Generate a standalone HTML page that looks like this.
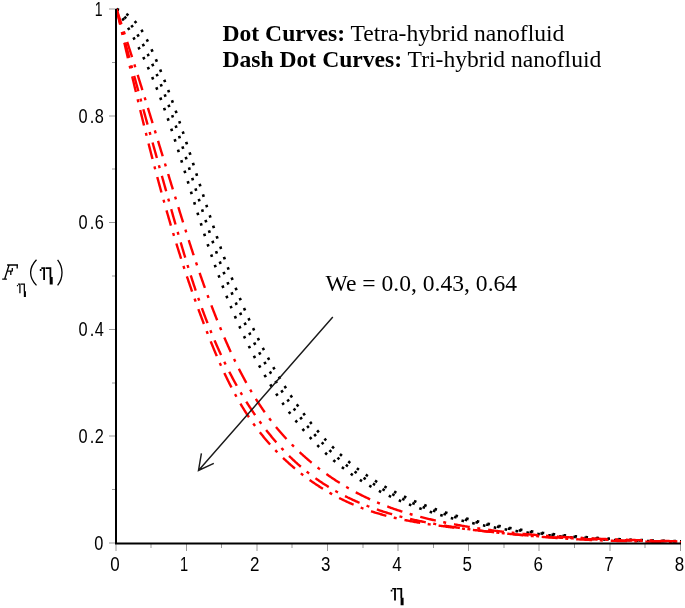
<!DOCTYPE html><html><head><meta charset="utf-8"><style>html,body{margin:0;padding:0;background:#fff;overflow:hidden}svg{display:block;will-change:transform}</style></head><body>
<svg width="685" height="608" viewBox="0 0 685 608">
<rect width="685" height="608" fill="#fff"/>
<path d="M109,543.0H116 M112,489.5H116 M109,436.0H116 M112,383.0H116 M109,329.5H116 M112,276.0H116 M109,222.5H116 M112,169.0H116 M109,116.0H116 M112,62.5H116 M109,9.0H116 M116.0,544V551 M151.0,544V548 M186.5,544V551 M221.5,544V548 M257.0,544V551 M292.0,544V548 M327.5,544V551 M363.0,544V548 M398.0,544V551 M433.5,544V548 M468.5,544V551 M504.0,544V548 M539.0,544V551 M574.5,544V548 M610.0,544V551 M645.0,544V548 M680.5,544V551" stroke="#999" stroke-width="1" fill="none"/>
<path d="M116.50,9.00 117.05,9.83 117.60,10.67 118.15,11.51 118.69,12.35 119.23,13.19 119.77,14.03 120.30,14.88 120.84,15.72 121.37,16.57 121.90,17.42 122.42,18.27 122.95,19.12 123.47,19.97 123.99,20.83 124.50,21.69 125.02,22.54 125.53,23.40 126.04,24.26 126.54,25.13 127.05,25.99 127.55,26.86 128.05,27.72 128.55,28.59 129.04,29.46 129.53,30.33 130.02,31.20 130.51,32.07 131.00,32.95 131.48,33.82 131.96,34.70 132.44,35.58 132.92,36.46 133.39,37.34 133.86,38.22 134.33,39.10 134.80,39.99 135.26,40.87 135.73,41.76 136.19,42.64 136.65,43.53 137.10,44.42 137.56,45.31 138.01,46.21 138.46,47.10 138.91,47.99 139.35,48.89 139.80,49.78 140.24,50.68 140.68,51.58 141.12,52.48 141.55,53.38 141.98,54.28 142.42,55.18 142.84,56.09 143.27,56.99 143.70,57.90 144.12,58.80 144.54,59.71 144.96,60.62 145.38,61.53 145.79,62.43 146.21,63.35 146.62,64.26 147.03,65.17 147.44,66.08 147.84,67.00 148.25,67.91 148.65,68.83 149.05,69.74 149.45,70.66 149.84,71.58 150.24,72.50 150.63,73.42 151.02,74.34 151.41,75.26 151.80,76.18 152.19,77.10 152.57,78.02 152.96,78.95 153.34,79.87 153.72,80.80 154.10,81.72 154.47,82.65 154.85,83.58 155.22,84.50 155.59,85.43 155.96,86.36 156.33,87.29 156.70,88.22 157.06,89.15 157.43,90.08 157.79,91.02 158.15,91.95 158.51,92.88 158.87,93.82 159.23,94.75 159.58,95.68 159.93,96.62 160.29,97.56 160.64,98.49 160.99,99.43 161.34,100.37 161.68,101.30 162.03,102.24 162.37,103.18 162.72,104.12 163.06,105.06 163.40,106.00 163.74,106.94 164.08,107.88 164.41,108.82 164.75,109.76 165.09,110.71 165.42,111.65 165.75,112.59 166.08,113.54 166.41,114.48 166.74,115.42 167.07,116.37 167.40,117.31 167.72,118.26 168.05,119.21 168.37,120.15 168.70,121.10 169.02,122.04 169.34,122.99 169.66,123.94 169.98,124.89 170.30,125.83 170.61,126.78 170.93,127.73 171.25,128.68 171.56,129.63 171.87,130.58 172.19,131.53 172.50,132.48 172.81,133.43 173.12,134.38 173.43,135.33 173.74,136.28 174.05,137.23 174.36,138.18 174.67,139.14 174.97,140.09 175.28,141.04 175.58,141.99 175.89,142.94 176.19,143.90 176.49,144.85 176.80,145.80 177.10,146.76 177.40,147.71 177.70,148.66 178.00,149.62 178.30,150.57 178.60,151.53 178.90,152.48 179.20,153.43 179.50,154.39 179.80,155.34 180.09,156.30 180.39,157.25 180.69,158.21 180.98,159.16 181.28,160.12 181.58,161.07 181.87,162.03 182.17,162.98 182.46,163.94 182.75,164.90 183.05,165.85 183.34,166.81 183.64,167.76 183.93,168.72 184.22,169.68 184.52,170.63 184.81,171.59 185.10,172.54 185.39,173.50 185.69,174.46 185.98,175.41 186.27,176.37 186.56,177.33 186.86,178.28 187.15,179.24 187.44,180.19 187.73,181.15 188.03,182.11 188.32,183.06 188.61,184.02 188.90,184.98 189.20,185.93 189.49,186.89 189.78,187.84 190.07,188.80 190.37,189.76 190.66,190.71 190.95,191.67 191.25,192.63 191.54,193.58 191.83,194.54 192.13,195.49 192.42,196.45 192.72,197.40 193.01,198.36 193.31,199.32 193.60,200.27 193.90,201.23 194.19,202.18 194.49,203.14 194.79,204.09 195.08,205.05 195.38,206.00 195.68,206.96 195.97,207.91 196.27,208.87 196.57,209.82 196.87,210.77 197.17,211.73 197.47,212.68 197.77,213.64 198.07,214.59 198.37,215.54 198.67,216.50 198.97,217.45 199.28,218.40 199.58,219.36 199.88,220.31 200.18,221.26 200.49,222.22 200.79,223.17 201.10,224.12 201.40,225.07 201.71,226.03 202.02,226.98 202.32,227.93 202.63,228.88 202.94,229.83 203.25,230.78 203.56,231.73 203.87,232.68 204.18,233.64 204.49,234.59 204.80,235.54 205.11,236.49 205.42,237.44 205.74,238.39 206.05,239.33 206.37,240.28 206.68,241.23 207.00,242.18 207.31,243.13 207.63,244.08 207.95,245.03 208.27,245.97 208.59,246.92 208.91,247.87 209.23,248.82 209.55,249.76 209.87,250.71 210.20,251.66 210.52,252.60 210.85,253.55 211.17,254.49 211.50,255.44 211.83,256.38 212.15,257.33 212.48,258.27 212.81,259.22 213.14,260.16 213.47,261.10 213.81,262.05 214.14,262.99 214.47,263.93 214.81,264.87 215.14,265.82 215.48,266.76 215.82,267.70 216.16,268.64 216.50,269.58 216.84,270.52 217.18,271.46 217.52,272.40 217.87,273.34 218.21,274.28 218.55,275.22 218.90,276.16 219.25,277.09 219.60,278.03 219.95,278.97 220.30,279.90 220.65,280.84 221.00,281.78 221.35,282.71 221.71,283.65 222.06,284.58 222.42,285.52 222.78,286.45 223.14,287.38 223.50,288.32 223.86,289.25 224.22,290.18 224.59,291.11 224.95,292.04 225.32,292.97 225.68,293.90 226.05,294.83 226.42,295.76 226.79,296.69 227.16,297.62 227.54,298.55 227.91,299.48 228.29,300.40 228.66,301.33 229.04,302.25 229.42,303.18 229.80,304.10 230.18,305.03 230.57,305.95 230.95,306.88 231.34,307.80 231.72,308.72 232.11,309.64 232.50,310.56 232.89,311.48 233.29,312.40 233.68,313.32 234.07,314.24 234.47,315.16 234.87,316.08 235.27,316.99 235.67,317.91 236.07,318.83 236.47,319.74 236.88,320.65 237.28,321.57 237.69,322.48 238.10,323.39 238.51,324.31 238.92,325.22 239.34,326.13 239.75,327.04 240.17,327.95 240.59,328.85 241.01,329.76 241.43,330.67 241.85,331.58 242.27,332.48 242.70,333.39 243.13,334.29 243.56,335.19 243.99,336.10 244.42,337.00 244.85,337.90 245.29,338.80 245.72,339.70 246.16,340.60 246.60,341.50 247.04,342.39 247.49,343.29 247.93,344.19 248.38,345.08 248.83,345.98 249.27,346.87 249.73,347.76 250.18,348.65 250.63,349.54 251.09,350.43 251.55,351.32 252.01,352.21 252.47,353.10 252.93,353.98 253.40,354.87 253.86,355.75 254.33,356.64 254.80,357.52 255.27,358.40 255.75,359.28 256.22,360.16 256.70,361.04 257.18,361.92 257.66,362.80 258.14,363.67 258.63,364.55 259.11,365.42 259.60,366.29 260.09,367.17 260.58,368.04 261.07,368.91 261.57,369.78 262.06,370.64 262.56,371.51 263.06,372.38 263.57,373.24 264.07,374.11 264.58,374.97 265.08,375.83 265.59,376.69 266.11,377.55 266.62,378.41 267.13,379.26 267.65,380.12 268.17,380.97 268.69,381.83 269.21,382.68 269.74,383.53 270.27,384.38 270.80,385.23 271.33,386.08 271.86,386.92 272.39,387.77 272.93,388.61 273.47,389.45 274.01,390.30 274.55,391.14 275.10,391.97 275.64,392.81 276.19,393.65 276.74,394.48 277.30,395.32 277.85,396.15 278.41,396.98 278.97,397.81 279.53,398.64 280.09,399.46 280.66,400.29 281.23,401.11 281.79,401.93 282.37,402.75 282.94,403.57 283.52,404.39 284.09,405.20 284.67,406.02 285.26,406.83 285.84,407.64 286.43,408.45 287.02,409.26 287.61,410.07 288.20,410.87 288.80,411.68 289.40,412.48 290.00,413.28 290.60,414.08 291.20,414.87 291.81,415.67 292.42,416.46 293.03,417.25 293.64,418.04 294.26,418.83 294.88,419.61 295.50,420.40 296.12,421.18 296.75,421.96 297.37,422.74 298.00,423.52 298.64,424.29 299.27,425.06 299.91,425.84 300.55,426.60 301.19,427.37 301.83,428.14 302.48,428.90 303.13,429.66 303.78,430.42 304.43,431.18 305.09,431.93 305.75,432.68 306.41,433.43 307.07,434.18 307.74,434.93 308.41,435.67 309.08,436.41 309.75,437.15 310.43,437.89 311.11,438.62 311.79,439.36 312.47,440.09 313.16,440.81 313.84,441.54 314.54,442.26 315.23,442.98 315.92,443.70 316.62,444.42 317.32,445.13 318.03,445.84 318.73,446.55 319.44,447.26 320.15,447.96 320.87,448.66 321.58,449.36 322.30,450.05 323.02,450.74 323.75,451.43 324.47,452.12 325.20,452.81 325.93,453.49 326.67,454.17 327.41,454.84 328.15,455.52 328.89,456.19 329.63,456.85 330.38,457.52 331.13,458.18 331.88,458.84 332.64,459.49 333.39,460.15 334.15,460.80 334.92,461.44 335.68,462.09 336.45,462.73 337.22,463.36 338.00,464.00 338.77,464.63 339.55,465.26 340.33,465.88 341.12,466.50 341.90,467.12 342.69,467.73 343.48,468.34 344.28,468.95 345.07,469.56 345.87,470.16 346.67,470.75 347.48,471.35 348.29,471.94 349.10,472.53 349.91,473.11 350.72,473.69 351.54,474.26 352.36,474.84 353.18,475.41 354.01,475.97 354.84,476.53 355.67,477.09 356.50,477.64 357.33,478.20 358.17,478.74 359.01,479.29 359.85,479.83 360.69,480.36 361.54,480.89 362.39,481.42 363.24,481.95 364.09,482.47 364.95,482.99 365.81,483.51 366.66,484.02 367.53,484.52 368.39,485.03 369.25,485.53 370.12,486.03 370.99,486.52 371.86,487.01 372.74,487.50 373.61,487.98 374.49,488.47 375.37,488.94 376.25,489.42 377.13,489.89 378.01,490.36 378.90,490.82 379.79,491.28 380.68,491.74 381.57,492.19 382.46,492.64 383.35,493.09 384.25,493.53 385.15,493.98 386.05,494.41 386.95,494.85 387.85,495.28 388.75,495.71 389.66,496.14 390.56,496.56 391.47,496.98 392.38,497.39 393.29,497.81 394.20,498.22 395.12,498.62 396.03,499.03 396.95,499.43 397.86,499.83 398.78,500.22 399.70,500.62 400.62,501.01 401.55,501.39 402.47,501.78 403.39,502.16 404.32,502.53 405.25,502.91 406.17,503.28 407.10,503.65 408.03,504.02 408.97,504.38 409.90,504.74 410.83,505.10 411.77,505.46 412.70,505.81 413.64,506.16 414.58,506.51 415.52,506.85 416.45,507.20 417.40,507.54 418.34,507.87 419.28,508.21 420.22,508.54 421.17,508.87 422.11,509.19 423.06,509.52 424.00,509.84 424.95,510.16 425.90,510.48 426.85,510.79 427.80,511.10 428.75,511.41 429.70,511.72 430.66,512.02 431.61,512.33 432.56,512.63 433.52,512.92 434.47,513.22 435.43,513.51 436.39,513.80 437.34,514.09 438.30,514.38 439.26,514.66 440.22,514.94 441.18,515.22 442.14,515.50 443.10,515.77 444.07,516.04 445.03,516.32 445.99,516.58 446.96,516.85 447.92,517.11 448.89,517.38 449.85,517.64 450.82,517.89 451.78,518.15 452.75,518.40 453.72,518.65 454.69,518.90 455.66,519.15 456.63,519.40 457.60,519.64 458.57,519.88 459.54,520.12 460.51,520.36 461.48,520.60 462.45,520.83 463.42,521.06 464.40,521.29 465.37,521.52 466.35,521.75 467.32,521.97 468.29,522.19 469.27,522.42 470.25,522.63 471.22,522.85 472.20,523.07 473.18,523.28 474.15,523.49 475.13,523.70 476.11,523.91 477.09,524.12 478.07,524.32 479.04,524.53 480.02,524.73 481.00,524.93 481.98,525.13 482.96,525.32 483.95,525.52 484.93,525.71 485.91,525.90 486.89,526.09 487.87,526.28 488.85,526.47 489.84,526.65 490.82,526.84 491.80,527.02 492.79,527.20 493.77,527.38 494.76,527.56 495.74,527.73 496.72,527.91 497.71,528.08 498.69,528.25 499.68,528.42 500.67,528.59 501.65,528.76 502.64,528.92 503.62,529.09 504.61,529.25 505.60,529.41 506.58,529.57 507.57,529.73 508.56,529.89 509.55,530.05 510.53,530.20 511.52,530.36 512.51,530.51 513.50,530.66 514.49,530.81 515.48,530.96 516.47,531.11 517.46,531.25 518.45,531.40 519.43,531.54 520.42,531.68 521.41,531.82 522.40,531.96 523.40,532.10 524.39,532.24 525.38,532.38 526.37,532.51 527.36,532.64 528.35,532.78 529.34,532.91 530.33,533.04 531.32,533.16 532.32,533.29 533.31,533.42 534.30,533.54 535.29,533.67 536.29,533.79 537.28,533.91 538.27,534.03 539.26,534.15 540.26,534.27 541.25,534.38 542.24,534.50 543.24,534.61 544.23,534.73 545.22,534.84 546.22,534.95 547.21,535.06 548.21,535.17 549.20,535.27 550.19,535.38 551.19,535.49 552.18,535.59 553.18,535.69 554.17,535.79 555.17,535.89 556.16,535.99 557.16,536.09 558.15,536.19 559.15,536.28 560.14,536.38 561.14,536.47 562.14,536.57 563.13,536.66 564.13,536.75 565.12,536.84 566.12,536.93 567.12,537.01 568.11,537.10 569.11,537.19 570.11,537.27 571.10,537.35 572.10,537.43 573.10,537.52 574.09,537.60 575.09,537.67 576.09,537.75 577.08,537.83 578.08,537.91 579.08,537.98 580.07,538.06 581.07,538.13 582.07,538.20 583.07,538.27 584.06,538.34 585.06,538.41 586.06,538.48 587.06,538.55 588.06,538.61 589.05,538.68 590.05,538.74 591.05,538.81 592.05,538.87 593.05,538.93 594.04,538.99 595.04,539.05 596.04,539.11 597.04,539.17 598.04,539.22 599.04,539.28 600.03,539.33 601.03,539.39 602.03,539.44 603.03,539.49 604.03,539.55 605.03,539.60 606.03,539.65 607.02,539.70 608.02,539.74 609.02,539.79 610.02,539.84 611.02,539.88 612.02,539.93 613.02,539.97 614.02,540.02 615.02,540.06 616.02,540.10 617.01,540.14 618.01,540.18 619.01,540.22 620.01,540.26 621.01,540.29 622.01,540.33 623.01,540.37 624.01,540.40 625.01,540.44 626.01,540.47 627.01,540.50 628.01,540.54 629.01,540.57 630.01,540.60 631.01,540.63 632.01,540.66 633.01,540.69 634.01,540.71 635.00,540.74 636.00,540.77 637.00,540.79 638.00,540.82 639.00,540.84 640.00,540.87 641.00,540.89 642.00,540.91 643.00,540.93 644.00,540.95 645.00,540.97 646.00,540.99 647.00,541.01 648.00,541.03 649.00,541.05 650.00,541.06 651.00,541.08 652.00,541.10 653.00,541.11 654.00,541.13 655.00,541.14 656.00,541.15 657.00,541.17 658.00,541.18 659.00,541.19 660.00,541.20 661.00,541.21 662.00,541.22 663.00,541.23 664.00,541.24 665.00,541.25 666.00,541.25 667.00,541.26 668.00,541.27 669.00,541.27 670.00,541.28 671.00,541.28 672.00,541.29 673.00,541.29 674.00,541.29 675.00,541.30 676.00,541.30 677.00,541.30 678.00,541.30 679.00,541.30 680.00,541.30 681.00,541.30" fill="none" stroke="#000" stroke-width="2.6" stroke-dasharray="2.6 8.4"/>
<path d="M116.50,9.00 117.26,9.66 118.00,10.32 118.74,11.00 119.48,11.68 120.20,12.37 120.92,13.07 121.62,13.78 122.32,14.49 123.02,15.22 123.70,15.95 124.38,16.68 125.05,17.43 125.71,18.18 126.36,18.94 127.01,19.70 127.65,20.47 128.28,21.25 128.90,22.04 129.51,22.83 130.12,23.62 130.72,24.42 131.31,25.23 131.90,26.04 132.48,26.86 133.05,27.68 133.62,28.50 134.17,29.33 134.73,30.17 135.27,31.01 135.81,31.85 136.34,32.70 136.87,33.55 137.39,34.41 137.91,35.27 138.42,36.13 138.92,36.99 139.42,37.86 139.91,38.73 140.40,39.60 140.88,40.48 141.36,41.36 141.84,42.24 142.31,43.13 142.77,44.01 143.23,44.90 143.69,45.79 144.14,46.68 144.59,47.58 145.04,48.47 145.49,49.37 145.93,50.27 146.36,51.17 146.80,52.07 147.23,52.97 147.66,53.88 148.09,54.78 148.51,55.69 148.94,56.60 149.36,57.50 149.78,58.41 150.20,59.32 150.61,60.23 151.03,61.14 151.44,62.06 151.85,62.97 152.25,63.88 152.66,64.80 153.06,65.72 153.47,66.63 153.87,67.55 154.26,68.47 154.66,69.39 155.06,70.31 155.45,71.23 155.84,72.15 156.23,73.07 156.62,73.99 157.00,74.92 157.39,75.84 157.77,76.77 158.15,77.69 158.53,78.62 158.91,79.55 159.28,80.47 159.65,81.40 160.03,82.33 160.40,83.26 160.77,84.19 161.14,85.12 161.50,86.06 161.87,86.99 162.23,87.92 162.59,88.85 162.95,89.79 163.31,90.72 163.67,91.66 164.02,92.59 164.38,93.53 164.73,94.47 165.08,95.40 165.43,96.34 165.78,97.28 166.13,98.22 166.47,99.16 166.82,100.10 167.16,101.04 167.51,101.98 167.85,102.92 168.19,103.86 168.53,104.80 168.86,105.74 169.20,106.69 169.54,107.63 169.87,108.57 170.20,109.52 170.53,110.46 170.86,111.41 171.19,112.35 171.52,113.30 171.85,114.24 172.18,115.19 172.50,116.14 172.83,117.08 173.15,118.03 173.47,118.98 173.80,119.93 174.12,120.87 174.44,121.82 174.75,122.77 175.07,123.72 175.39,124.67 175.71,125.62 176.02,126.57 176.34,127.52 176.65,128.47 176.96,129.42 177.28,130.37 177.59,131.32 177.90,132.28 178.21,133.23 178.52,134.18 178.83,135.13 179.14,136.08 179.44,137.04 179.75,137.99 180.06,138.94 180.36,139.90 180.67,140.85 180.97,141.80 181.28,142.76 181.58,143.71 181.88,144.66 182.18,145.62 182.49,146.57 182.79,147.53 183.09,148.48 183.39,149.44 183.69,150.39 183.99,151.35 184.29,152.30 184.59,153.26 184.89,154.21 185.18,155.17 185.48,156.12 185.78,157.08 186.08,158.04 186.37,158.99 186.67,159.95 186.97,160.90 187.26,161.86 187.56,162.82 187.86,163.77 188.15,164.73 188.45,165.68 188.74,166.64 189.04,167.60 189.34,168.55 189.63,169.51 189.93,170.47 190.22,171.42 190.52,172.38 190.81,173.34 191.11,174.29 191.40,175.25 191.70,176.21 191.99,177.16 192.29,178.12 192.58,179.08 192.88,180.03 193.17,180.99 193.47,181.94 193.77,182.90 194.06,183.86 194.36,184.81 194.65,185.77 194.95,186.73 195.25,187.68 195.54,188.64 195.84,189.59 196.14,190.55 196.44,191.50 196.73,192.46 197.03,193.42 197.33,194.37 197.63,195.33 197.93,196.28 198.23,197.24 198.53,198.19 198.83,199.15 199.13,200.10 199.43,201.06 199.73,202.01 200.04,202.97 200.34,203.92 200.64,204.87 200.94,205.83 201.25,206.78 201.55,207.74 201.85,208.69 202.16,209.64 202.46,210.60 202.77,211.55 203.08,212.50 203.38,213.46 203.69,214.41 204.00,215.36 204.31,216.31 204.61,217.27 204.92,218.22 205.23,219.17 205.54,220.12 205.85,221.07 206.16,222.02 206.48,222.98 206.79,223.93 207.10,224.88 207.41,225.83 207.73,226.78 208.04,227.73 208.36,228.68 208.67,229.63 208.99,230.58 209.31,231.53 209.63,232.48 209.94,233.43 210.26,234.38 210.58,235.32 210.90,236.27 211.22,237.22 211.55,238.17 211.87,239.12 212.19,240.06 212.51,241.01 212.84,241.96 213.16,242.90 213.49,243.85 213.82,244.80 214.14,245.74 214.47,246.69 214.80,247.63 215.13,248.58 215.46,249.52 215.79,250.47 216.13,251.41 216.46,252.36 216.79,253.30 217.13,254.24 217.46,255.19 217.80,256.13 218.14,257.07 218.47,258.01 218.81,258.96 219.15,259.90 219.49,260.84 219.83,261.78 220.18,262.72 220.52,263.66 220.86,264.60 221.21,265.54 221.56,266.48 221.90,267.42 222.25,268.36 222.60,269.30 222.95,270.23 223.30,271.17 223.65,272.11 224.01,273.05 224.36,273.98 224.71,274.92 225.07,275.85 225.43,276.79 225.78,277.72 226.14,278.66 226.50,279.59 226.86,280.53 227.23,281.46 227.59,282.39 227.95,283.32 228.32,284.26 228.69,285.19 229.05,286.12 229.42,287.05 229.79,287.98 230.16,288.91 230.53,289.84 230.91,290.77 231.28,291.70 231.66,292.62 232.03,293.55 232.41,294.48 232.79,295.41 233.17,296.33 233.55,297.26 233.93,298.18 234.32,299.11 234.70,300.03 235.09,300.95 235.47,301.88 235.86,302.80 236.25,303.72 236.64,304.64 237.04,305.56 237.43,306.48 237.82,307.40 238.22,308.32 238.62,309.24 239.02,310.16 239.42,311.08 239.82,312.00 240.22,312.91 240.62,313.83 241.03,314.74 241.44,315.66 241.84,316.57 242.25,317.49 242.66,318.40 243.08,319.31 243.49,320.22 243.90,321.13 244.32,322.04 244.74,322.95 245.16,323.86 245.58,324.77 246.00,325.68 246.42,326.59 246.85,327.49 247.27,328.40 247.70,329.30 248.13,330.21 248.56,331.11 248.99,332.02 249.42,332.92 249.86,333.82 250.29,334.72 250.73,335.62 251.17,336.52 251.61,337.42 252.05,338.32 252.50,339.21 252.94,340.11 253.39,341.01 253.84,341.90 254.29,342.80 254.74,343.69 255.19,344.58 255.65,345.48 256.10,346.37 256.56,347.26 257.02,348.15 257.48,349.04 257.94,349.92 258.40,350.81 258.87,351.70 259.34,352.58 259.80,353.47 260.28,354.35 260.75,355.23 261.22,356.12 261.69,357.00 262.17,357.88 262.65,358.76 263.13,359.63 263.61,360.51 264.09,361.39 264.58,362.27 265.06,363.14 265.55,364.01 266.04,364.89 266.53,365.76 267.03,366.63 267.52,367.50 268.02,368.37 268.52,369.24 269.02,370.11 269.52,370.97 270.02,371.84 270.52,372.70 271.03,373.57 271.54,374.43 272.05,375.29 272.56,376.15 273.07,377.01 273.59,377.87 274.11,378.72 274.62,379.58 275.14,380.44 275.67,381.29 276.19,382.14 276.72,383.00 277.24,383.85 277.77,384.70 278.30,385.54 278.84,386.39 279.37,387.24 279.91,388.08 280.45,388.93 280.99,389.77 281.53,390.61 282.08,391.45 282.62,392.29 283.17,393.13 283.72,393.96 284.27,394.80 284.83,395.63 285.38,396.46 285.94,397.29 286.50,398.12 287.06,398.95 287.63,399.78 288.19,400.60 288.76,401.43 289.33,402.25 289.90,403.07 290.48,403.89 291.05,404.71 291.63,405.53 292.21,406.34 292.79,407.16 293.38,407.97 293.97,408.78 294.56,409.59 295.15,410.40 295.74,411.21 296.33,412.01 296.93,412.81 297.53,413.61 298.13,414.41 298.74,415.21 299.34,416.01 299.95,416.80 300.56,417.60 301.18,418.39 301.79,419.18 302.41,419.97 303.03,420.75 303.65,421.54 304.28,422.32 304.90,423.10 305.53,423.88 306.16,424.65 306.80,425.43 307.43,426.20 308.07,426.97 308.71,427.74 309.36,428.51 310.00,429.27 310.65,430.04 311.30,430.80 311.95,431.56 312.61,432.31 313.27,433.07 313.93,433.82 314.59,434.57 315.25,435.32 315.92,436.07 316.59,436.81 317.26,437.55 317.94,438.29 318.61,439.03 319.29,439.76 319.98,440.50 320.66,441.23 321.35,441.95 322.04,442.68 322.73,443.40 323.43,444.12 324.12,444.84 324.82,445.55 325.53,446.27 326.23,446.98 326.94,447.69 327.65,448.39 328.36,449.09 329.08,449.79 329.80,450.49 330.52,451.18 331.24,451.88 331.97,452.57 332.70,453.25 333.43,453.94 334.16,454.62 334.90,455.29 335.64,455.97 336.38,456.64 337.13,457.31 337.87,457.97 338.62,458.64 339.38,459.30 340.13,459.95 340.89,460.61 341.65,461.26 342.41,461.91 343.18,462.55 343.95,463.19 344.72,463.83 345.49,464.46 346.27,465.09 347.05,465.72 347.83,466.35 348.62,466.97 349.41,467.59 350.20,468.20 350.99,468.81 351.79,469.42 352.58,470.02 353.38,470.62 354.19,471.22 355.00,471.81 355.80,472.40 356.62,472.99 357.43,473.57 358.25,474.15 359.07,474.72 359.89,475.29 360.71,475.86 361.54,476.42 362.37,476.98 363.20,477.54 364.04,478.09 364.87,478.64 365.71,479.19 366.56,479.73 367.40,480.27 368.25,480.80 369.09,481.33 369.94,481.86 370.80,482.39 371.65,482.91 372.51,483.42 373.37,483.94 374.23,484.45 375.09,484.95 375.96,485.46 376.83,485.96 377.70,486.45 378.57,486.94 379.44,487.43 380.32,487.92 381.19,488.40 382.07,488.88 382.95,489.36 383.83,489.83 384.72,490.30 385.61,490.76 386.49,491.23 387.38,491.69 388.27,492.14 389.17,492.59 390.06,493.04 390.96,493.49 391.86,493.93 392.75,494.37 393.66,494.81 394.56,495.24 395.46,495.67 396.37,496.10 397.27,496.52 398.18,496.94 399.09,497.36 400.00,497.77 400.92,498.18 401.83,498.59 402.75,499.00 403.66,499.40 404.58,499.80 405.50,500.20 406.42,500.59 407.34,500.98 408.27,501.37 409.19,501.75 410.12,502.13 411.04,502.51 411.97,502.89 412.90,503.26 413.83,503.63 414.76,504.00 415.69,504.36 416.63,504.72 417.56,505.08 418.50,505.44 419.43,505.79 420.37,506.14 421.31,506.49 422.25,506.83 423.19,507.17 424.13,507.51 425.07,507.85 426.02,508.19 426.96,508.52 427.91,508.85 428.85,509.17 429.80,509.50 430.75,509.82 431.70,510.14 432.65,510.45 433.60,510.77 434.55,511.08 435.50,511.39 436.45,511.69 437.41,512.00 438.36,512.30 439.32,512.60 440.27,512.90 441.23,513.19 442.19,513.48 443.15,513.77 444.10,514.06 445.06,514.34 446.02,514.63 446.99,514.91 447.95,515.19 448.91,515.46 449.87,515.74 450.84,516.01 451.80,516.28 452.76,516.55 453.73,516.81 454.70,517.07 455.66,517.33 456.63,517.59 457.60,517.85 458.56,518.10 459.53,518.36 460.50,518.61 461.47,518.86 462.44,519.10 463.41,519.35 464.38,519.59 465.36,519.83 466.33,520.07 467.30,520.30 468.27,520.54 469.25,520.77 470.22,521.00 471.20,521.23 472.17,521.46 473.15,521.68 474.12,521.91 475.10,522.13 476.07,522.35 477.05,522.57 478.03,522.78 479.01,523.00 479.99,523.21 480.96,523.42 481.94,523.63 482.92,523.84 483.90,524.04 484.88,524.25 485.86,524.45 486.84,524.65 487.82,524.85 488.81,525.04 489.79,525.24 490.77,525.43 491.75,525.63 492.73,525.82 493.72,526.01 494.70,526.20 495.68,526.38 496.67,526.57 497.65,526.75 498.64,526.93 499.62,527.11 500.61,527.29 501.59,527.47 502.58,527.65 503.56,527.82 504.55,527.99 505.53,528.17 506.52,528.34 507.51,528.50 508.49,528.67 509.48,528.84 510.47,529.00 511.46,529.17 512.44,529.33 513.43,529.49 514.42,529.65 515.41,529.81 516.40,529.97 517.39,530.12 518.37,530.28 519.36,530.43 520.35,530.58 521.34,530.73 522.33,530.88 523.32,531.03 524.31,531.18 525.30,531.32 526.29,531.47 527.28,531.61 528.28,531.75 529.27,531.89 530.26,532.03 531.25,532.17 532.24,532.30 533.23,532.44 534.22,532.57 535.22,532.71 536.21,532.84 537.20,532.97 538.19,533.10 539.19,533.23 540.18,533.35 541.17,533.48 542.17,533.60 543.16,533.72 544.15,533.85 545.15,533.97 546.14,534.09 547.14,534.20 548.13,534.32 549.12,534.44 550.12,534.55 551.11,534.66 552.11,534.78 553.10,534.89 554.10,535.00 555.09,535.10 556.09,535.21 557.08,535.32 558.08,535.42 559.07,535.53 560.07,535.63 561.07,535.73 562.06,535.83 563.06,535.93 564.05,536.03 565.05,536.13 566.05,536.22 567.04,536.32 568.04,536.41 569.04,536.50 570.03,536.59 571.03,536.69 572.03,536.77 573.02,536.86 574.02,536.95 575.02,537.04 576.02,537.12 577.01,537.21 578.01,537.29 579.01,537.37 580.01,537.45 581.00,537.53 582.00,537.61 583.00,537.69 584.00,537.76 585.00,537.84 585.99,537.91 586.99,537.99 587.99,538.06 588.99,538.13 589.99,538.20 590.99,538.27 591.99,538.34 592.98,538.41 593.98,538.48 594.98,538.54 595.98,538.61 596.98,538.67 597.98,538.73 598.98,538.80 599.98,538.86 600.98,538.92 601.98,538.98 602.97,539.04 603.97,539.09 604.97,539.15 605.97,539.21 606.97,539.26 607.97,539.31 608.97,539.37 609.97,539.42 610.97,539.47 611.97,539.52 612.97,539.57 613.97,539.62 614.97,539.67 615.97,539.72 616.97,539.76 617.97,539.81 618.97,539.85 619.97,539.90 620.97,539.94 621.97,539.98 622.97,540.02 623.97,540.06 624.97,540.10 625.97,540.14 626.97,540.18 627.97,540.22 628.97,540.26 629.97,540.29 630.97,540.33 631.97,540.36 632.97,540.40 633.97,540.43 634.97,540.46 635.98,540.49 636.98,540.52 637.98,540.56 638.98,540.59 639.98,540.61 640.98,540.64 641.98,540.67 642.98,540.70 643.98,540.72 644.98,540.75 645.98,540.77 646.98,540.80 647.98,540.82 648.98,540.85 649.98,540.87 650.99,540.89 651.99,540.91 652.99,540.93 653.99,540.95 654.99,540.97 655.99,540.99 656.99,541.01 657.99,541.03 658.99,541.05 659.99,541.06 660.99,541.08 661.99,541.10 663.00,541.11 664.00,541.13 665.00,541.14 666.00,541.15 667.00,541.17 668.00,541.18 669.00,541.19 670.00,541.20 671.00,541.21 672.00,541.22 673.00,541.23 674.01,541.24 675.01,541.25 676.01,541.26 677.01,541.27 678.01,541.28 679.01,541.29 680.01,541.29 681.01,541.30" fill="none" stroke="#000" stroke-width="2.6" stroke-dasharray="2.6 8.4"/>
<path d="M116.50,9.00 117.44,9.34 118.37,9.70 119.30,10.08 120.21,10.49 121.12,10.91 122.02,11.36 122.90,11.83 123.78,12.31 124.64,12.82 125.49,13.35 126.33,13.89 127.15,14.46 127.96,15.05 128.76,15.65 129.55,16.27 130.32,16.91 131.07,17.56 131.82,18.24 132.55,18.92 133.26,19.62 133.96,20.34 134.65,21.07 135.32,21.81 135.98,22.56 136.62,23.33 137.25,24.10 137.87,24.89 138.48,25.69 139.07,26.49 139.65,27.31 140.22,28.13 140.78,28.96 141.33,29.80 141.87,30.64 142.40,31.49 142.91,32.35 143.42,33.21 143.92,34.08 144.41,34.95 144.90,35.82 145.37,36.70 145.84,37.59 146.30,38.48 146.76,39.37 147.21,40.26 147.65,41.16 148.09,42.06 148.53,42.96 148.96,43.86 149.38,44.77 149.80,45.67 150.22,46.58 150.64,47.49 151.05,48.40 151.47,49.32 151.88,50.23 152.29,51.14 152.69,52.06 153.10,52.97 153.50,53.89 153.91,54.80 154.31,55.72 154.71,56.64 155.10,57.56 155.50,58.47 155.90,59.39 156.29,60.31 156.68,61.23 157.07,62.16 157.46,63.08 157.85,64.00 158.24,64.92 158.62,65.85 159.01,66.77 159.39,67.70 159.77,68.62 160.15,69.55 160.53,70.47 160.90,71.40 161.28,72.33 161.65,73.26 162.03,74.19 162.40,75.12 162.77,76.04 163.14,76.97 163.50,77.91 163.87,78.84 164.24,79.77 164.60,80.70 164.96,81.63 165.32,82.57 165.69,83.50 166.04,84.43 166.40,85.37 166.76,86.30 167.12,87.24 167.47,88.17 167.82,89.11 168.18,90.05 168.53,90.98 168.88,91.92 169.23,92.86 169.58,93.80 169.92,94.74 170.27,95.68 170.61,96.61 170.96,97.55 171.30,98.49 171.64,99.44 171.98,100.38 172.33,101.32 172.66,102.26 173.00,103.20 173.34,104.14 173.68,105.08 174.01,106.03 174.35,106.97 174.68,107.91 175.01,108.86 175.35,109.80 175.68,110.75 176.01,111.69 176.34,112.64 176.67,113.58 176.99,114.53 177.32,115.47 177.65,116.42 177.97,117.36 178.30,118.31 178.62,119.26 178.95,120.20 179.27,121.15 179.59,122.10 179.91,123.05 180.23,124.00 180.55,124.94 180.87,125.89 181.19,126.84 181.51,127.79 181.83,128.74 182.14,129.69 182.46,130.64 182.78,131.59 183.09,132.54 183.41,133.49 183.72,134.44 184.03,135.39 184.35,136.34 184.66,137.29 184.97,138.24 185.28,139.19 185.60,140.14 185.91,141.09 186.22,142.04 186.53,143.00 186.84,143.95 187.15,144.90 187.45,145.85 187.76,146.80 188.07,147.75 188.38,148.71 188.69,149.66 188.99,150.61 189.30,151.56 189.61,152.52 189.91,153.47 190.22,154.42 190.52,155.38 190.83,156.33 191.13,157.28 191.44,158.24 191.74,159.19 192.05,160.14 192.35,161.10 192.65,162.05 192.96,163.00 193.26,163.96 193.57,164.91 193.87,165.86 194.17,166.82 194.48,167.77 194.78,168.72 195.08,169.68 195.38,170.63 195.69,171.59 195.99,172.54 196.29,173.49 196.60,174.45 196.90,175.40 197.20,176.36 197.50,177.31 197.81,178.26 198.11,179.22 198.41,180.17 198.72,181.12 199.02,182.08 199.32,183.03 199.62,183.99 199.93,184.94 200.23,185.89 200.54,186.85 200.84,187.80 201.14,188.75 201.45,189.71 201.75,190.66 202.06,191.61 202.36,192.57 202.66,193.52 202.97,194.47 203.28,195.43 203.58,196.38 203.89,197.33 204.19,198.29 204.50,199.24 204.80,200.19 205.11,201.14 205.42,202.10 205.73,203.05 206.03,204.00 206.34,204.95 206.65,205.90 206.96,206.86 207.27,207.81 207.58,208.76 207.89,209.71 208.20,210.66 208.51,211.62 208.82,212.57 209.13,213.52 209.44,214.47 209.75,215.42 210.06,216.37 210.38,217.32 210.69,218.27 211.00,219.22 211.32,220.17 211.63,221.12 211.95,222.07 212.26,223.02 212.58,223.97 212.89,224.92 213.21,225.87 213.53,226.82 213.85,227.77 214.16,228.72 214.48,229.67 214.80,230.61 215.12,231.56 215.44,232.51 215.76,233.46 216.09,234.41 216.41,235.35 216.73,236.30 217.06,237.25 217.38,238.19 217.70,239.14 218.03,240.09 218.36,241.03 218.68,241.98 219.01,242.92 219.34,243.87 219.67,244.81 220.00,245.76 220.33,246.70 220.66,247.65 220.99,248.59 221.32,249.54 221.66,250.48 221.99,251.42 222.32,252.37 222.66,253.31 223.00,254.25 223.33,255.19 223.67,256.14 224.01,257.08 224.35,258.02 224.69,258.96 225.03,259.90 225.37,260.84 225.71,261.78 226.06,262.72 226.40,263.66 226.75,264.60 227.09,265.54 227.44,266.48 227.79,267.42 228.14,268.36 228.49,269.29 228.84,270.23 229.19,271.17 229.54,272.10 229.90,273.04 230.25,273.98 230.61,274.91 230.96,275.85 231.32,276.78 231.68,277.72 232.04,278.65 232.40,279.58 232.76,280.52 233.12,281.45 233.49,282.38 233.85,283.31 234.22,284.25 234.58,285.18 234.95,286.11 235.32,287.04 235.69,287.97 236.06,288.90 236.43,289.83 236.81,290.75 237.18,291.68 237.56,292.61 237.93,293.54 238.31,294.46 238.69,295.39 239.07,296.32 239.45,297.24 239.83,298.17 240.22,299.09 240.60,300.01 240.99,300.94 241.38,301.86 241.76,302.78 242.15,303.70 242.54,304.63 242.94,305.55 243.33,306.47 243.72,307.39 244.12,308.30 244.52,309.22 244.92,310.14 245.32,311.06 245.72,311.98 246.12,312.89 246.52,313.81 246.93,314.72 247.34,315.64 247.74,316.55 248.15,317.46 248.56,318.38 248.97,319.29 249.39,320.20 249.80,321.11 250.22,322.02 250.64,322.93 251.05,323.84 251.47,324.75 251.90,325.66 252.32,326.56 252.74,327.47 253.17,328.38 253.60,329.28 254.02,330.18 254.45,331.09 254.89,331.99 255.32,332.89 255.75,333.79 256.19,334.70 256.63,335.60 257.07,336.49 257.51,337.39 257.95,338.29 258.39,339.19 258.84,340.08 259.28,340.98 259.73,341.88 260.18,342.77 260.63,343.66 261.09,344.55 261.54,345.45 262.00,346.34 262.45,347.23 262.91,348.12 263.37,349.01 263.84,349.89 264.30,350.78 264.76,351.67 265.23,352.55 265.70,353.44 266.17,354.32 266.64,355.20 267.12,356.08 267.59,356.96 268.07,357.84 268.55,358.72 269.03,359.60 269.51,360.48 269.99,361.35 270.48,362.23 270.96,363.10 271.45,363.98 271.94,364.85 272.43,365.72 272.93,366.59 273.42,367.46 273.92,368.33 274.42,369.20 274.92,370.07 275.42,370.93 275.92,371.80 276.43,372.66 276.93,373.52 277.44,374.38 277.95,375.24 278.47,376.10 278.98,376.96 279.50,377.82 280.01,378.68 280.53,379.53 281.06,380.39 281.58,381.24 282.10,382.09 282.63,382.94 283.16,383.79 283.69,384.64 284.22,385.49 284.76,386.33 285.29,387.18 285.83,388.02 286.37,388.86 286.91,389.71 287.46,390.55 288.00,391.38 288.55,392.22 289.10,393.06 289.65,393.89 290.21,394.73 290.76,395.56 291.32,396.39 291.88,397.22 292.44,398.05 293.01,398.87 293.57,399.70 294.14,400.52 294.71,401.34 295.28,402.17 295.86,402.99 296.44,403.80 297.01,404.62 297.59,405.44 298.18,406.25 298.76,407.06 299.35,407.87 299.94,408.68 300.53,409.49 301.12,410.29 301.72,411.10 302.32,411.90 302.92,412.70 303.52,413.50 304.12,414.30 304.73,415.09 305.34,415.89 305.95,416.68 306.56,417.47 307.18,418.26 307.80,419.05 308.42,419.83 309.04,420.62 309.66,421.40 310.29,422.18 310.92,422.96 311.55,423.73 312.19,424.51 312.82,425.28 313.46,426.05 314.10,426.82 314.75,427.58 315.39,428.35 316.04,429.11 316.69,429.87 317.35,430.63 318.00,431.38 318.66,432.14 319.32,432.89 319.98,433.64 320.65,434.39 321.32,435.13 321.99,435.88 322.66,436.62 323.33,437.36 324.01,438.09 324.69,438.83 325.37,439.56 326.06,440.29 326.75,441.01 327.44,441.74 328.13,442.46 328.83,443.18 329.52,443.90 330.22,444.61 330.93,445.32 331.63,446.03 332.34,446.74 333.05,447.45 333.77,448.15 334.48,448.85 335.20,449.54 335.92,450.24 336.64,450.93 337.37,451.62 338.10,452.30 338.83,452.99 339.57,453.67 340.30,454.34 341.04,455.02 341.78,455.69 342.53,456.36 343.28,457.02 344.03,457.69 344.78,458.35 345.53,459.00 346.29,459.66 347.05,460.31 347.82,460.95 348.58,461.60 349.35,462.24 350.12,462.88 350.90,463.51 351.67,464.14 352.45,464.77 353.23,465.39 354.02,466.01 354.80,466.63 355.59,467.25 356.39,467.86 357.18,468.47 357.98,469.07 358.78,469.67 359.58,470.27 360.39,470.86 361.20,471.45 362.01,472.04 362.82,472.62 363.64,473.20 364.46,473.78 365.28,474.35 366.10,474.92 366.93,475.48 367.75,476.04 368.58,476.60 369.42,477.16 370.25,477.71 371.09,478.26 371.93,478.80 372.77,479.34 373.62,479.88 374.46,480.42 375.31,480.95 376.16,481.47 377.01,482.00 377.87,482.52 378.72,483.04 379.58,483.55 380.44,484.06 381.31,484.57 382.17,485.07 383.04,485.57 383.90,486.07 384.78,486.57 385.65,487.06 386.52,487.54 387.40,488.03 388.27,488.51 389.15,488.99 390.04,489.46 390.92,489.93 391.80,490.40 392.69,490.86 393.58,491.33 394.47,491.78 395.36,492.24 396.25,492.69 397.15,493.14 398.04,493.59 398.94,494.03 399.84,494.47 400.74,494.91 401.64,495.34 402.54,495.77 403.45,496.20 404.35,496.62 405.26,497.04 406.17,497.46 407.08,497.88 407.99,498.29 408.91,498.70 409.82,499.10 410.74,499.51 411.65,499.91 412.57,500.31 413.49,500.70 414.41,501.09 415.34,501.48 416.26,501.87 417.18,502.25 418.11,502.63 419.04,503.01 419.96,503.38 420.89,503.76 421.82,504.12 422.75,504.49 423.69,504.85 424.62,505.22 425.55,505.57 426.49,505.93 427.43,506.28 428.36,506.63 429.30,506.98 430.24,507.32 431.18,507.67 432.12,508.01 433.07,508.34 434.01,508.68 434.95,509.01 435.90,509.34 436.84,509.67 437.79,509.99 438.74,510.31 439.69,510.63 440.64,510.95 441.59,511.26 442.54,511.57 443.49,511.88 444.44,512.19 445.39,512.50 446.35,512.80 447.30,513.10 448.26,513.39 449.22,513.69 450.17,513.98 451.13,514.27 452.09,514.56 453.05,514.85 454.01,515.13 454.97,515.41 455.93,515.69 456.89,515.97 457.85,516.24 458.82,516.51 459.78,516.78 460.74,517.05 461.71,517.32 462.67,517.58 463.64,517.84 464.61,518.10 465.57,518.36 466.54,518.61 467.51,518.86 468.48,519.12 469.45,519.36 470.42,519.61 471.39,519.85 472.36,520.10 473.33,520.34 474.30,520.58 475.28,520.81 476.25,521.05 477.22,521.28 478.20,521.51 479.17,521.74 480.15,521.96 481.12,522.19 482.10,522.41 483.07,522.63 484.05,522.85 485.03,523.07 486.00,523.28 486.98,523.50 487.96,523.71 488.94,523.92 489.92,524.13 490.90,524.33 491.88,524.54 492.86,524.74 493.84,524.94 494.82,525.14 495.80,525.34 496.78,525.53 497.76,525.73 498.74,525.92 499.73,526.11 500.71,526.30 501.69,526.48 502.67,526.67 503.66,526.85 504.64,527.03 505.63,527.22 506.61,527.39 507.60,527.57 508.58,527.75 509.57,527.92 510.55,528.09 511.54,528.26 512.53,528.43 513.51,528.60 514.50,528.77 515.49,528.93 516.47,529.10 517.46,529.26 518.45,529.42 519.44,529.58 520.43,529.73 521.41,529.89 522.40,530.04 523.39,530.20 524.38,530.35 525.37,530.50 526.36,530.65 527.35,530.79 528.34,530.94 529.33,531.08 530.32,531.22 531.31,531.37 532.30,531.51 533.29,531.64 534.29,531.78 535.28,531.92 536.27,532.05 537.26,532.18 538.25,532.31 539.24,532.44 540.24,532.57 541.23,532.70 542.22,532.83 543.22,532.95 544.21,533.07 545.20,533.20 546.20,533.32 547.19,533.43 548.18,533.55 549.18,533.67 550.17,533.78 551.17,533.90 552.16,534.01 553.15,534.12 554.15,534.23 555.14,534.34 556.14,534.45 557.13,534.56 558.13,534.66 559.12,534.77 560.12,534.87 561.11,534.97 562.11,535.07 563.11,535.17 564.10,535.27 565.10,535.37 566.09,535.46 567.09,535.56 568.09,535.65 569.08,535.75 570.08,535.84 571.08,535.93 572.07,536.02 573.07,536.11 574.07,536.19 575.06,536.28 576.06,536.36 577.06,536.45 578.06,536.53 579.05,536.61 580.05,536.69 581.05,536.77 582.05,536.85 583.04,536.93 584.04,537.01 585.04,537.08 586.04,537.16 587.04,537.23 588.03,537.31 589.03,537.38 590.03,537.45 591.03,537.52 592.03,537.59 593.02,537.66 594.02,537.73 595.02,537.79 596.02,537.86 597.02,537.92 598.02,537.99 599.02,538.05 600.02,538.11 601.01,538.18 602.01,538.24 603.01,538.30 604.01,538.36 605.01,538.42 606.01,538.47 607.01,538.53 608.01,538.59 609.01,538.64 610.01,538.70 611.00,538.75 612.00,538.81 613.00,538.86 614.00,538.91 615.00,538.96 616.00,539.01 617.00,539.06 618.00,539.11 619.00,539.16 620.00,539.21 621.00,539.26 622.00,539.30 623.00,539.35 624.00,539.39 625.00,539.44 626.00,539.48 627.00,539.53 628.00,539.57 629.00,539.61 630.00,539.66 631.00,539.70 632.00,539.74 633.00,539.78 634.00,539.82 635.00,539.86 636.00,539.90 637.00,539.94 638.00,539.98 639.00,540.01 640.00,540.05 641.00,540.09 642.00,540.12 643.00,540.16 644.00,540.19 645.00,540.23 646.00,540.26 647.00,540.30 648.00,540.33 649.00,540.37 650.00,540.40 651.00,540.43 652.00,540.47 653.00,540.50 654.00,540.53 655.00,540.56 656.00,540.59 657.00,540.62 658.00,540.66 659.00,540.69 660.00,540.72 661.00,540.75 662.00,540.78 663.00,540.81 664.00,540.83 665.00,540.86 666.00,540.89 667.00,540.92 668.00,540.95 669.00,540.98 670.00,541.01 671.00,541.03 672.01,541.06 673.01,541.09 674.01,541.12 675.01,541.15 676.01,541.17 677.01,541.20 678.01,541.23 679.01,541.25 680.01,541.28 681.01,541.31" fill="none" stroke="#000" stroke-width="2.6" stroke-dasharray="2.6 8.4"/>
<path d="M116.50,9.00 116.73,9.97 116.95,10.95 117.18,11.92 117.41,12.90 117.63,13.87 117.86,14.85 118.08,15.82 118.31,16.79 118.54,17.77 118.76,18.74 118.99,19.72 119.21,20.69 119.44,21.67 119.67,22.64 119.89,23.62 120.12,24.59 120.34,25.56 120.57,26.54 120.79,27.51 121.02,28.49 121.25,29.46 121.47,30.44 121.70,31.41 121.92,32.38 122.15,33.36 122.38,34.33 122.60,35.31 122.83,36.28 123.05,37.26 123.28,38.23 123.51,39.20 123.73,40.18 123.96,41.15 124.18,42.13 124.41,43.10 124.64,44.08 124.86,45.05 125.09,46.02 125.32,47.00 125.54,47.97 125.77,48.95 126.00,49.92 126.22,50.90 126.45,51.87 126.68,52.84 126.90,53.82 127.13,54.79 127.36,55.77 127.58,56.74 127.81,57.71 128.04,58.69 128.27,59.66 128.49,60.64 128.72,61.61 128.95,62.58 129.18,63.56 129.41,64.53 129.63,65.51 129.86,66.48 130.09,67.45 130.32,68.43 130.55,69.40 130.78,70.38 131.00,71.35 131.23,72.32 131.46,73.30 131.69,74.27 131.92,75.24 132.15,76.22 132.38,77.19 132.61,78.16 132.84,79.14 133.07,80.11 133.30,81.08 133.53,82.06 133.76,83.03 133.99,84.00 134.22,84.98 134.45,85.95 134.68,86.92 134.92,87.90 135.15,88.87 135.38,89.84 135.61,90.82 135.84,91.79 136.08,92.76 136.31,93.73 136.54,94.71 136.77,95.68 137.01,96.65 137.24,97.63 137.47,98.60 137.71,99.57 137.94,100.54 138.17,101.52 138.41,102.49 138.64,103.46 138.88,104.43 139.11,105.40 139.35,106.38 139.58,107.35 139.82,108.32 140.05,109.29 140.29,110.27 140.53,111.24 140.76,112.21 141.00,113.18 141.24,114.15 141.47,115.12 141.71,116.10 141.95,117.07 142.19,118.04 142.43,119.01 142.66,119.98 142.90,120.95 143.14,121.92 143.38,122.90 143.62,123.87 143.86,124.84 144.10,125.81 144.34,126.78 144.58,127.75 144.82,128.72 145.06,129.69 145.31,130.66 145.55,131.63 145.79,132.60 146.03,133.57 146.28,134.54 146.52,135.51 146.76,136.48 147.01,137.45 147.25,138.42 147.49,139.39 147.74,140.36 147.98,141.33 148.23,142.30 148.47,143.27 148.72,144.24 148.97,145.21 149.21,146.18 149.46,147.15 149.71,148.12 149.96,149.09 150.20,150.06 150.45,151.03 150.70,152.00 150.95,152.96 151.20,153.93 151.45,154.90 151.70,155.87 151.95,156.84 152.20,157.81 152.45,158.77 152.70,159.74 152.95,160.71 153.21,161.68 153.46,162.65 153.71,163.61 153.97,164.58 154.22,165.55 154.47,166.52 154.73,167.48 154.98,168.45 155.24,169.42 155.50,170.38 155.75,171.35 156.01,172.32 156.27,173.28 156.52,174.25 156.78,175.22 157.04,176.18 157.30,177.15 157.56,178.12 157.82,179.08 158.08,180.05 158.34,181.01 158.60,181.98 158.86,182.94 159.12,183.91 159.38,184.88 159.65,185.84 159.91,186.81 160.17,187.77 160.44,188.74 160.70,189.70 160.97,190.66 161.23,191.63 161.50,192.59 161.76,193.56 162.03,194.52 162.30,195.48 162.57,196.45 162.83,197.41 163.10,198.38 163.37,199.34 163.64,200.30 163.91,201.26 164.18,202.23 164.45,203.19 164.73,204.15 165.00,205.12 165.27,206.08 165.54,207.04 165.82,208.00 166.09,208.96 166.37,209.93 166.64,210.89 166.92,211.85 167.19,212.81 167.47,213.77 167.75,214.73 168.03,215.69 168.31,216.65 168.58,217.61 168.86,218.57 169.14,219.53 169.42,220.49 169.71,221.45 169.99,222.41 170.27,223.37 170.55,224.33 170.84,225.29 171.12,226.25 171.40,227.21 171.69,228.17 171.98,229.13 172.26,230.09 172.55,231.04 172.84,232.00 173.12,232.96 173.41,233.92 173.70,234.88 173.99,235.83 174.28,236.79 174.57,237.75 174.87,238.70 175.16,239.66 175.45,240.62 175.74,241.57 176.04,242.53 176.33,243.48 176.63,244.44 176.92,245.40 177.22,246.35 177.52,247.31 177.82,248.26 178.11,249.22 178.41,250.17 178.71,251.12 179.01,252.08 179.31,253.03 179.62,253.99 179.92,254.94 180.22,255.89 180.52,256.85 180.83,257.80 181.13,258.75 181.44,259.70 181.74,260.66 182.05,261.61 182.36,262.56 182.67,263.51 182.98,264.46 183.28,265.41 183.59,266.36 183.91,267.32 184.22,268.27 184.53,269.22 184.84,270.17 185.16,271.12 185.47,272.07 185.78,273.01 186.10,273.96 186.42,274.91 186.73,275.86 187.05,276.81 187.37,277.76 187.69,278.71 188.01,279.65 188.33,280.60 188.65,281.55 188.97,282.50 189.30,283.44 189.62,284.39 189.94,285.33 190.27,286.28 190.59,287.23 190.92,288.17 191.25,289.12 191.57,290.06 191.90,291.01 192.23,291.95 192.56,292.90 192.89,293.84 193.22,294.78 193.56,295.73 193.89,296.67 194.22,297.61 194.56,298.56 194.89,299.50 195.23,300.44 195.56,301.38 195.90,302.32 196.24,303.26 196.58,304.21 196.92,305.15 197.26,306.09 197.60,307.03 197.94,307.97 198.29,308.91 198.63,309.85 198.97,310.79 199.32,311.72 199.66,312.66 200.01,313.60 200.36,314.54 200.71,315.48 201.06,316.41 201.41,317.35 201.76,318.29 202.11,319.22 202.46,320.16 202.81,321.10 203.17,322.03 203.52,322.97 203.88,323.90 204.23,324.84 204.59,325.77 204.95,326.70 205.31,327.64 205.67,328.57 206.03,329.50 206.39,330.44 206.75,331.37 207.11,332.30 207.48,333.23 207.84,334.17 208.21,335.10 208.57,336.03 208.94,336.96 209.31,337.89 209.68,338.82 210.05,339.75 210.42,340.68 210.79,341.60 211.16,342.53 211.54,343.46 211.91,344.39 212.29,345.31 212.67,346.24 213.05,347.16 213.43,348.09 213.81,349.01 214.19,349.94 214.57,350.86 214.96,351.79 215.35,352.71 215.73,353.63 216.12,354.55 216.52,355.47 216.91,356.39 217.30,357.31 217.70,358.23 218.10,359.15 218.49,360.06 218.89,360.98 219.30,361.90 219.70,362.81 220.11,363.73 220.51,364.64 220.92,365.55 221.33,366.46 221.74,367.38 222.16,368.29 222.57,369.20 222.99,370.10 223.41,371.01 223.83,371.92 224.26,372.83 224.68,373.73 225.11,374.63 225.54,375.54 225.97,376.44 226.41,377.34 226.84,378.24 227.28,379.14 227.72,380.04 228.16,380.94 228.61,381.83 229.05,382.73 229.50,383.62 229.95,384.51 230.41,385.41 230.86,386.30 231.32,387.18 231.78,388.07 232.25,388.96 232.71,389.84 233.18,390.73 233.65,391.61 234.12,392.49 234.60,393.37 235.08,394.25 235.56,395.13 236.04,396.00 236.53,396.88 237.01,397.75 237.50,398.62 238.00,399.49 238.50,400.36 238.99,401.23 239.50,402.09 240.00,402.96 240.51,403.82 241.02,404.68 241.53,405.54 242.05,406.39 242.57,407.25 243.09,408.10 243.62,408.95 244.14,409.80 244.67,410.65 245.21,411.49 245.75,412.34 246.29,413.18 246.83,414.02 247.38,414.86 247.92,415.69 248.48,416.53 249.03,417.36 249.59,418.19 250.15,419.02 250.72,419.84 251.29,420.66 251.86,421.49 252.43,422.30 253.01,423.12 253.59,423.93 254.18,424.75 254.77,425.55 255.36,426.36 255.95,427.16 256.55,427.97 257.15,428.77 257.76,429.56 258.37,430.36 258.98,431.15 259.59,431.94 260.21,432.72 260.83,433.51 261.45,434.29 262.08,435.07 262.71,435.85 263.35,436.62 263.98,437.39 264.62,438.16 265.27,438.93 265.91,439.69 266.56,440.45 267.21,441.21 267.87,441.96 268.53,442.72 269.19,443.47 269.85,444.21 270.52,444.96 271.19,445.70 271.87,446.44 272.54,447.18 273.22,447.91 273.91,448.64 274.59,449.37 275.28,450.09 275.97,450.82 276.67,451.54 277.36,452.25 278.06,452.97 278.77,453.68 279.47,454.39 280.18,455.09 280.90,455.79 281.61,456.49 282.33,457.19 283.05,457.88 283.77,458.57 284.50,459.26 285.23,459.95 285.96,460.63 286.69,461.31 287.43,461.98 288.17,462.65 288.92,463.32 289.66,463.99 290.41,464.65 291.16,465.31 291.91,465.97 292.67,466.63 293.43,467.28 294.19,467.93 294.96,468.57 295.72,469.21 296.49,469.85 297.27,470.49 298.04,471.12 298.82,471.75 299.60,472.37 300.38,472.99 301.17,473.61 301.96,474.23 302.75,474.84 303.54,475.45 304.34,476.06 305.14,476.66 305.94,477.26 306.74,477.85 307.55,478.45 308.35,479.04 309.16,479.62 309.98,480.20 310.79,480.78 311.61,481.36 312.43,481.93 313.25,482.50 314.08,483.07 314.91,483.63 315.74,484.18 316.57,484.74 317.40,485.29 318.24,485.84 319.08,486.38 319.92,486.92 320.77,487.46 321.61,487.99 322.46,488.52 323.31,489.05 324.17,489.57 325.02,490.09 325.88,490.60 326.74,491.11 327.60,491.62 328.46,492.13 329.33,492.63 330.20,493.12 331.07,493.61 331.94,494.10 332.82,494.59 333.69,495.07 334.57,495.55 335.45,496.02 336.34,496.49 337.22,496.95 338.11,497.42 339.00,497.87 339.89,498.33 340.78,498.78 341.68,499.22 342.58,499.67 343.48,500.10 344.38,500.54 345.28,500.97 346.18,501.39 347.09,501.82 348.00,502.23 348.91,502.65 349.82,503.06 350.74,503.46 351.65,503.86 352.57,504.26 353.49,504.66 354.41,505.04 355.34,505.43 356.26,505.81 357.19,506.19 358.12,506.56 359.05,506.93 359.98,507.29 360.91,507.65 361.85,508.00 362.78,508.36 363.72,508.70 364.66,509.04 365.60,509.38 366.55,509.72 367.49,510.05 368.44,510.37 369.38,510.69 370.33,511.01 371.28,511.32 372.23,511.63 373.18,511.94 374.14,512.24 375.09,512.54 376.05,512.83 377.01,513.12 377.96,513.41 378.92,513.69 379.88,513.97 380.85,514.25 381.81,514.52 382.77,514.79 383.74,515.05 384.70,515.32 385.67,515.57 386.63,515.83 387.60,516.08 388.57,516.33 389.54,516.57 390.51,516.82 391.48,517.05 392.45,517.29 393.43,517.52 394.40,517.75 395.38,517.98 396.35,518.20 397.33,518.42 398.30,518.64 399.28,518.86 400.26,519.07 401.23,519.28 402.21,519.49 403.19,519.69 404.17,519.89 405.15,520.09 406.13,520.29 407.11,520.48 408.10,520.67 409.08,520.86 410.06,521.05 411.04,521.23 412.03,521.42 413.01,521.60 413.99,521.78 414.98,521.95 415.96,522.12 416.95,522.30 417.94,522.47 418.92,522.63 419.91,522.80 420.89,522.96 421.88,523.12 422.87,523.28 423.86,523.44 424.84,523.60 425.83,523.75 426.82,523.91 427.81,524.06 428.80,524.21 429.79,524.36 430.78,524.50 431.77,524.65 432.76,524.79 433.75,524.94 434.74,525.08 435.73,525.22 436.72,525.36 437.71,525.50 438.70,525.63 439.69,525.77 440.68,525.90 441.67,526.03 442.66,526.17 443.66,526.30 444.65,526.43 445.64,526.56 446.63,526.69 447.62,526.81 448.62,526.94 449.61,527.07 450.60,527.19 451.59,527.32 452.58,527.44 453.58,527.56 454.57,527.69 455.56,527.81 456.56,527.93 457.55,528.05 458.54,528.17 459.53,528.29 460.53,528.42 461.52,528.54 462.51,528.66 463.51,528.78 464.50,528.89 465.49,529.01 466.49,529.13 467.48,529.25 468.47,529.37 469.46,529.49 470.46,529.60 471.45,529.72 472.44,529.84 473.44,529.95 474.43,530.07 475.43,530.19 476.42,530.30 477.41,530.42 478.41,530.53 479.40,530.65 480.39,530.76 481.39,530.87 482.38,530.99 483.37,531.10 484.37,531.21 485.36,531.32 486.36,531.44 487.35,531.55 488.34,531.66 489.34,531.77 490.33,531.88 491.33,531.99 492.32,532.10 493.32,532.20 494.31,532.31 495.30,532.42 496.30,532.53 497.29,532.63 498.29,532.74 499.28,532.85 500.28,532.95 501.27,533.06 502.27,533.16 503.26,533.27 504.26,533.37 505.25,533.47 506.25,533.57 507.24,533.68 508.24,533.78 509.23,533.88 510.23,533.98 511.22,534.08 512.22,534.18 513.21,534.28 514.21,534.38 515.20,534.47 516.20,534.57 517.19,534.67 518.19,534.76 519.19,534.86 520.18,534.96 521.18,535.05 522.17,535.14 523.17,535.24 524.16,535.33 525.16,535.42 526.16,535.51 527.15,535.60 528.15,535.69 529.14,535.78 530.14,535.87 531.14,535.96 532.13,536.05 533.13,536.14 534.13,536.22 535.12,536.31 536.12,536.40 537.12,536.48 538.11,536.57 539.11,536.65 540.11,536.73 541.10,536.81 542.10,536.90 543.10,536.98 544.09,537.06 545.09,537.14 546.09,537.21 547.09,537.29 548.08,537.37 549.08,537.45 550.08,537.52 551.07,537.60 552.07,537.67 553.07,537.75 554.07,537.82 555.06,537.89 556.06,537.97 557.06,538.04 558.06,538.11 559.06,538.18 560.05,538.25 561.05,538.31 562.05,538.38 563.05,538.45 564.04,538.51 565.04,538.58 566.04,538.64 567.04,538.71 568.04,538.77 569.04,538.83 570.03,538.89 571.03,538.95 572.03,539.01 573.03,539.07 574.03,539.13 575.03,539.19 576.03,539.24 577.02,539.30 578.02,539.35 579.02,539.41 580.02,539.46 581.02,539.51 582.02,539.57 583.02,539.62 584.02,539.67 585.01,539.72 586.01,539.76 587.01,539.81 588.01,539.86 589.01,539.91 590.01,539.95 591.01,540.00 592.01,540.04 593.01,540.08 594.01,540.13 595.01,540.17 596.01,540.21 597.01,540.25 598.00,540.29 599.00,540.33 600.00,540.37 601.00,540.41 602.00,540.44 603.00,540.48 604.00,540.51 605.00,540.55 606.00,540.59 607.00,540.62 608.00,540.65 609.00,540.69 610.00,540.72 611.00,540.75 612.00,540.78 613.00,540.81 614.00,540.84 615.00,540.87 616.00,540.90 617.00,540.93 618.00,540.96 619.00,540.99 620.00,541.01 621.00,541.04 622.00,541.07 623.00,541.09 624.00,541.12 625.00,541.14 626.00,541.17 627.00,541.19 628.00,541.22 629.00,541.24 630.00,541.26 631.00,541.28 632.00,541.31 633.00,541.33 634.00,541.35 635.00,541.37 636.00,541.39 637.00,541.41 638.00,541.43 639.00,541.45 640.00,541.47 641.00,541.49 642.00,541.51 643.00,541.53 644.00,541.55 645.00,541.56 646.00,541.58 647.00,541.60 648.00,541.62 649.00,541.63 650.00,541.65 651.00,541.67 652.00,541.68 653.00,541.70 654.00,541.71 655.00,541.73 656.00,541.75 657.00,541.76 658.00,541.78 659.00,541.79 660.00,541.81 661.00,541.82 662.00,541.84 663.00,541.85 664.00,541.86 665.00,541.88 666.00,541.89 667.00,541.91 668.00,541.92 669.00,541.93 670.00,541.95 671.00,541.96 672.00,541.98 673.00,541.99 674.00,542.00 675.00,542.02 676.00,542.03 677.00,542.04 678.00,542.06 679.00,542.07 680.00,542.08 681.00,542.10" fill="none" stroke="#f00" stroke-width="2.4" stroke-dasharray="16 7.6 3 7.98"/>
<path d="M116.50,9.00 116.75,9.97 117.00,10.94 117.25,11.91 117.50,12.88 117.75,13.84 118.00,14.81 118.25,15.78 118.50,16.75 118.76,17.72 119.01,18.69 119.26,19.66 119.51,20.63 119.76,21.59 120.02,22.56 120.27,23.53 120.52,24.50 120.77,25.47 121.03,26.44 121.28,27.40 121.53,28.37 121.79,29.34 122.04,30.31 122.30,31.28 122.55,32.24 122.80,33.21 123.06,34.18 123.31,35.15 123.57,36.12 123.82,37.08 124.08,38.05 124.33,39.02 124.59,39.99 124.85,40.95 125.10,41.92 125.36,42.89 125.62,43.86 125.87,44.82 126.13,45.79 126.39,46.76 126.64,47.73 126.90,48.69 127.16,49.66 127.42,50.63 127.67,51.59 127.93,52.56 128.19,53.53 128.45,54.50 128.71,55.46 128.96,56.43 129.22,57.40 129.48,58.36 129.74,59.33 130.00,60.30 130.26,61.26 130.52,62.23 130.78,63.20 131.04,64.16 131.30,65.13 131.56,66.09 131.82,67.06 132.08,68.03 132.34,68.99 132.60,69.96 132.86,70.93 133.12,71.89 133.39,72.86 133.65,73.82 133.91,74.79 134.17,75.76 134.43,76.72 134.69,77.69 134.96,78.65 135.22,79.62 135.48,80.59 135.74,81.55 136.01,82.52 136.27,83.48 136.53,84.45 136.79,85.41 137.06,86.38 137.32,87.35 137.58,88.31 137.85,89.28 138.11,90.24 138.37,91.21 138.64,92.17 138.90,93.14 139.17,94.10 139.43,95.07 139.70,96.03 139.96,97.00 140.22,97.96 140.49,98.93 140.75,99.89 141.02,100.86 141.28,101.83 141.55,102.79 141.81,103.76 142.08,104.72 142.34,105.69 142.61,106.65 142.88,107.62 143.14,108.58 143.41,109.54 143.67,110.51 143.94,111.47 144.21,112.44 144.47,113.40 144.74,114.37 145.01,115.33 145.27,116.30 145.54,117.26 145.81,118.23 146.07,119.19 146.34,120.16 146.61,121.12 146.87,122.09 147.14,123.05 147.41,124.01 147.67,124.98 147.94,125.94 148.21,126.91 148.48,127.87 148.75,128.84 149.01,129.80 149.28,130.76 149.55,131.73 149.82,132.69 150.08,133.66 150.35,134.62 150.62,135.59 150.89,136.55 151.16,137.51 151.43,138.48 151.69,139.44 151.96,140.41 152.23,141.37 152.50,142.34 152.77,143.30 153.04,144.26 153.31,145.23 153.57,146.19 153.84,147.16 154.11,148.12 154.38,149.08 154.65,150.05 154.92,151.01 155.19,151.98 155.46,152.94 155.73,153.90 156.00,154.87 156.27,155.83 156.54,156.79 156.81,157.76 157.07,158.72 157.34,159.69 157.61,160.65 157.88,161.61 158.15,162.58 158.42,163.54 158.69,164.51 158.96,165.47 159.23,166.43 159.50,167.40 159.77,168.36 160.04,169.32 160.31,170.29 160.58,171.25 160.85,172.22 161.12,173.18 161.39,174.14 161.66,175.11 161.93,176.07 162.20,177.03 162.47,178.00 162.74,178.96 163.01,179.92 163.28,180.89 163.55,181.85 163.82,182.82 164.09,183.78 164.36,184.74 164.63,185.71 164.90,186.67 165.17,187.63 165.44,188.60 165.71,189.56 165.98,190.53 166.25,191.49 166.52,192.45 166.79,193.42 167.06,194.38 167.33,195.34 167.60,196.31 167.87,197.27 168.14,198.23 168.41,199.20 168.68,200.16 168.95,201.13 169.22,202.09 169.50,203.05 169.77,204.02 170.04,204.98 170.31,205.94 170.58,206.91 170.85,207.87 171.12,208.83 171.39,209.80 171.66,210.76 171.93,211.73 172.20,212.69 172.47,213.65 172.74,214.62 173.01,215.58 173.29,216.54 173.56,217.51 173.83,218.47 174.10,219.43 174.37,220.39 174.65,221.36 174.92,222.32 175.19,223.28 175.47,224.25 175.74,225.21 176.01,226.17 176.29,227.13 176.56,228.10 176.84,229.06 177.11,230.02 177.39,230.98 177.67,231.94 177.94,232.91 178.22,233.87 178.50,234.83 178.77,235.79 179.05,236.75 179.33,237.71 179.61,238.68 179.89,239.64 180.17,240.60 180.45,241.56 180.73,242.52 181.01,243.48 181.29,244.44 181.57,245.40 181.86,246.36 182.14,247.32 182.42,248.28 182.71,249.24 182.99,250.20 183.28,251.16 183.57,252.12 183.85,253.07 184.14,254.03 184.43,254.99 184.72,255.95 185.01,256.91 185.30,257.87 185.59,258.82 185.88,259.78 186.17,260.74 186.46,261.70 186.76,262.65 187.05,263.61 187.35,264.57 187.64,265.52 187.94,266.48 188.24,267.43 188.53,268.39 188.83,269.34 189.13,270.30 189.43,271.25 189.73,272.21 190.04,273.16 190.34,274.12 190.64,275.07 190.95,276.02 191.25,276.98 191.56,277.93 191.87,278.88 192.18,279.83 192.49,280.78 192.80,281.74 193.11,282.69 193.42,283.64 193.73,284.59 194.05,285.54 194.36,286.49 194.68,287.44 195.00,288.39 195.31,289.34 195.63,290.28 195.95,291.23 196.28,292.18 196.60,293.13 196.92,294.07 197.25,295.02 197.57,295.97 197.90,296.91 198.23,297.86 198.56,298.80 198.89,299.75 199.22,300.69 199.55,301.64 199.89,302.58 200.22,303.52 200.56,304.47 200.90,305.41 201.24,306.35 201.58,307.29 201.92,308.23 202.26,309.17 202.60,310.11 202.95,311.05 203.30,311.99 203.64,312.93 203.99,313.87 204.34,314.80 204.70,315.74 205.05,316.68 205.41,317.61 205.76,318.55 206.12,319.48 206.48,320.42 206.84,321.35 207.20,322.28 207.56,323.21 207.93,324.15 208.30,325.08 208.66,326.01 209.03,326.94 209.40,327.87 209.78,328.80 210.15,329.73 210.52,330.65 210.90,331.58 211.28,332.51 211.66,333.43 212.04,334.36 212.43,335.28 212.81,336.21 213.20,337.13 213.59,338.05 213.97,338.97 214.37,339.90 214.76,340.82 215.15,341.74 215.55,342.65 215.95,343.57 216.35,344.49 216.75,345.41 217.15,346.32 217.56,347.24 217.97,348.15 218.37,349.07 218.78,349.98 219.20,350.89 219.61,351.80 220.03,352.71 220.44,353.62 220.86,354.53 221.29,355.44 221.71,356.34 222.13,357.25 222.56,358.16 222.99,359.06 223.42,359.96 223.85,360.87 224.29,361.77 224.72,362.67 225.16,363.57 225.60,364.47 226.04,365.36 226.49,366.26 226.93,367.16 227.38,368.05 227.83,368.95 228.29,369.84 228.74,370.73 229.20,371.62 229.65,372.51 230.11,373.40 230.58,374.29 231.04,375.17 231.51,376.06 231.98,376.94 232.45,377.83 232.92,378.71 233.39,379.59 233.87,380.47 234.35,381.35 234.83,382.23 235.32,383.10 235.80,383.98 236.29,384.85 236.78,385.72 237.27,386.60 237.77,387.47 238.26,388.33 238.76,389.20 239.26,390.07 239.77,390.93 240.27,391.80 240.78,392.66 241.29,393.52 241.80,394.38 242.32,395.24 242.83,396.10 243.35,396.95 243.87,397.81 244.40,398.66 244.92,399.51 245.45,400.36 245.98,401.21 246.51,402.06 247.05,402.90 247.59,403.75 248.13,404.59 248.67,405.43 249.21,406.27 249.76,407.11 250.31,407.94 250.86,408.78 251.41,409.61 251.97,410.45 252.53,411.28 253.09,412.10 253.65,412.93 254.22,413.76 254.79,414.58 255.36,415.40 255.93,416.22 256.51,417.04 257.09,417.86 257.67,418.67 258.25,419.49 258.84,420.30 259.42,421.11 260.01,421.92 260.61,422.72 261.20,423.53 261.80,424.33 262.40,425.13 263.00,425.93 263.61,426.73 264.22,427.52 264.83,428.32 265.44,429.11 266.05,429.90 266.67,430.68 267.29,431.47 267.91,432.25 268.54,433.03 269.17,433.81 269.80,434.59 270.43,435.37 271.07,436.14 271.71,436.91 272.35,437.68 272.99,438.44 273.64,439.21 274.29,439.97 274.94,440.73 275.60,441.48 276.25,442.24 276.91,442.99 277.58,443.74 278.24,444.49 278.91,445.23 279.58,445.98 280.26,446.72 280.93,447.45 281.61,448.19 282.29,448.92 282.98,449.65 283.67,450.38 284.36,451.10 285.05,451.82 285.75,452.54 286.45,453.26 287.15,453.97 287.86,454.68 288.56,455.39 289.27,456.09 289.99,456.79 290.71,457.49 291.43,458.19 292.15,458.88 292.87,459.57 293.60,460.25 294.33,460.94 295.07,461.62 295.81,462.29 296.55,462.97 297.29,463.64 298.04,464.30 298.79,464.97 299.54,465.63 300.29,466.28 301.05,466.93 301.81,467.58 302.58,468.23 303.35,468.87 304.12,469.51 304.89,470.15 305.67,470.78 306.45,471.41 307.23,472.03 308.01,472.65 308.80,473.27 309.59,473.88 310.39,474.49 311.19,475.09 311.99,475.69 312.79,476.29 313.60,476.88 314.40,477.47 315.22,478.06 316.03,478.64 316.85,479.22 317.67,479.79 318.49,480.36 319.31,480.93 320.14,481.49 320.97,482.05 321.81,482.60 322.64,483.15 323.48,483.70 324.32,484.25 325.16,484.78 326.01,485.32 326.86,485.85 327.71,486.38 328.56,486.90 329.41,487.42 330.27,487.94 331.13,488.45 331.99,488.96 332.86,489.47 333.72,489.97 334.59,490.47 335.46,490.96 336.33,491.45 337.21,491.94 338.09,492.42 338.97,492.90 339.85,493.37 340.73,493.84 341.61,494.31 342.50,494.77 343.39,495.23 344.28,495.69 345.17,496.14 346.07,496.59 346.97,497.03 347.86,497.48 348.76,497.91 349.67,498.35 350.57,498.78 351.48,499.20 352.38,499.63 353.29,500.04 354.20,500.46 355.11,500.87 356.03,501.28 356.94,501.68 357.86,502.08 358.78,502.48 359.70,502.87 360.62,503.26 361.55,503.65 362.47,504.03 363.40,504.41 364.32,504.78 365.25,505.16 366.19,505.52 367.12,505.89 368.05,506.25 368.99,506.61 369.92,506.96 370.86,507.31 371.80,507.66 372.74,508.00 373.68,508.34 374.62,508.67 375.57,509.01 376.51,509.34 377.46,509.66 378.41,509.99 379.35,510.31 380.30,510.62 381.25,510.93 382.21,511.24 383.16,511.55 384.11,511.85 385.07,512.15 386.02,512.45 386.98,512.74 387.94,513.04 388.90,513.32 389.85,513.61 390.82,513.89 391.78,514.17 392.74,514.45 393.70,514.72 394.66,514.99 395.63,515.26 396.59,515.52 397.56,515.78 398.53,516.04 399.49,516.30 400.46,516.55 401.43,516.80 402.40,517.05 403.37,517.30 404.34,517.54 405.31,517.78 406.29,518.02 407.26,518.25 408.23,518.49 409.21,518.72 410.18,518.95 411.16,519.17 412.13,519.39 413.11,519.62 414.08,519.83 415.06,520.05 416.04,520.27 417.02,520.48 417.99,520.69 418.97,520.89 419.95,521.10 420.93,521.30 421.91,521.50 422.89,521.70 423.88,521.90 424.86,522.10 425.84,522.29 426.82,522.48 427.80,522.67 428.79,522.86 429.77,523.04 430.75,523.23 431.74,523.41 432.72,523.59 433.71,523.77 434.69,523.94 435.68,524.12 436.66,524.29 437.65,524.46 438.64,524.63 439.62,524.80 440.61,524.97 441.60,525.14 442.58,525.30 443.57,525.46 444.56,525.62 445.55,525.78 446.54,525.94 447.52,526.10 448.51,526.25 449.50,526.41 450.49,526.56 451.48,526.71 452.47,526.86 453.46,527.01 454.45,527.16 455.44,527.30 456.43,527.45 457.42,527.59 458.41,527.74 459.40,527.88 460.39,528.02 461.38,528.16 462.37,528.30 463.36,528.44 464.36,528.58 465.35,528.71 466.34,528.85 467.33,528.98 468.32,529.12 469.31,529.25 470.31,529.38 471.30,529.51 472.29,529.64 473.28,529.77 474.28,529.90 475.27,530.02 476.26,530.15 477.26,530.27 478.25,530.40 479.24,530.52 480.23,530.64 481.23,530.76 482.22,530.88 483.22,531.00 484.21,531.12 485.20,531.24 486.20,531.36 487.19,531.47 488.19,531.59 489.18,531.70 490.17,531.81 491.17,531.92 492.16,532.03 493.16,532.14 494.15,532.25 495.15,532.36 496.14,532.47 497.14,532.58 498.13,532.68 499.13,532.79 500.12,532.89 501.12,532.99 502.12,533.10 503.11,533.20 504.11,533.30 505.10,533.40 506.10,533.50 507.09,533.59 508.09,533.69 509.09,533.79 510.08,533.88 511.08,533.98 512.08,534.07 513.07,534.16 514.07,534.26 515.07,534.35 516.06,534.44 517.06,534.53 518.06,534.62 519.05,534.71 520.05,534.79 521.05,534.88 522.04,534.97 523.04,535.05 524.04,535.14 525.04,535.22 526.03,535.30 527.03,535.38 528.03,535.47 529.03,535.55 530.02,535.63 531.02,535.70 532.02,535.78 533.02,535.86 534.01,535.94 535.01,536.01 536.01,536.09 537.01,536.16 538.01,536.24 539.00,536.31 540.00,536.38 541.00,536.46 542.00,536.53 543.00,536.60 544.00,536.67 544.99,536.74 545.99,536.80 546.99,536.87 547.99,536.94 548.99,537.01 549.99,537.07 550.99,537.14 551.98,537.20 552.98,537.27 553.98,537.33 554.98,537.39 555.98,537.45 556.98,537.51 557.98,537.57 558.98,537.63 559.98,537.69 560.97,537.75 561.97,537.81 562.97,537.87 563.97,537.93 564.97,537.98 565.97,538.04 566.97,538.09 567.97,538.15 568.97,538.20 569.97,538.26 570.97,538.31 571.97,538.36 572.97,538.41 573.97,538.46 574.97,538.51 575.97,538.56 576.96,538.61 577.96,538.66 578.96,538.71 579.96,538.76 580.96,538.81 581.96,538.85 582.96,538.90 583.96,538.94 584.96,538.99 585.96,539.03 586.96,539.08 587.96,539.12 588.96,539.17 589.96,539.21 590.96,539.25 591.96,539.29 592.96,539.33 593.96,539.37 594.96,539.42 595.96,539.46 596.96,539.49 597.96,539.53 598.96,539.57 599.96,539.61 600.96,539.65 601.96,539.68 602.96,539.72 603.96,539.76 604.96,539.79 605.96,539.83 606.96,539.86 607.96,539.90 608.96,539.93 609.96,539.97 610.96,540.00 611.96,540.03 612.96,540.07 613.96,540.10 614.97,540.13 615.97,540.16 616.97,540.19 617.97,540.22 618.97,540.25 619.97,540.28 620.97,540.31 621.97,540.34 622.97,540.37 623.97,540.40 624.97,540.43 625.97,540.46 626.97,540.48 627.97,540.51 628.97,540.54 629.97,540.57 630.97,540.59 631.97,540.62 632.97,540.64 633.97,540.67 634.97,540.69 635.97,540.72 636.97,540.74 637.97,540.77 638.98,540.79 639.98,540.82 640.98,540.84 641.98,540.86 642.98,540.89 643.98,540.91 644.98,540.93 645.98,540.95 646.98,540.97 647.98,541.00 648.98,541.02 649.98,541.04 650.98,541.06 651.98,541.08 652.98,541.10 653.98,541.12 654.98,541.14 655.99,541.16 656.99,541.18 657.99,541.20 658.99,541.22 659.99,541.24 660.99,541.26 661.99,541.28 662.99,541.30 663.99,541.31 664.99,541.33 665.99,541.35 666.99,541.37 667.99,541.39 668.99,541.40 669.99,541.42 670.99,541.44 672.00,541.46 673.00,541.47 674.00,541.49 675.00,541.51 676.00,541.52 677.00,541.54 678.00,541.56 679.00,541.57 680.00,541.59 681.00,541.61" fill="none" stroke="#f00" stroke-width="2.4" stroke-dasharray="16 7.6 3 7.98"/>
<path d="M116.50,9.00 116.81,9.95 117.13,10.90 117.44,11.85 117.75,12.80 118.07,13.75 118.38,14.70 118.69,15.66 119.00,16.61 119.32,17.56 119.63,18.51 119.94,19.46 120.25,20.41 120.56,21.36 120.87,22.31 121.18,23.27 121.49,24.22 121.80,25.17 122.11,26.12 122.42,27.07 122.73,28.03 123.04,28.98 123.35,29.93 123.66,30.88 123.96,31.84 124.27,32.79 124.58,33.74 124.89,34.69 125.19,35.65 125.50,36.60 125.81,37.55 126.11,38.50 126.42,39.46 126.73,40.41 127.03,41.36 127.34,42.32 127.64,43.27 127.95,44.22 128.25,45.18 128.56,46.13 128.86,47.08 129.17,48.04 129.47,48.99 129.77,49.95 130.08,50.90 130.38,51.85 130.68,52.81 130.99,53.76 131.29,54.72 131.59,55.67 131.89,56.62 132.20,57.58 132.50,58.53 132.80,59.49 133.10,60.44 133.40,61.40 133.71,62.35 134.01,63.31 134.31,64.26 134.61,65.21 134.91,66.17 135.21,67.12 135.51,68.08 135.81,69.03 136.11,69.99 136.41,70.94 136.71,71.90 137.01,72.85 137.31,73.81 137.61,74.77 137.91,75.72 138.21,76.68 138.50,77.63 138.80,78.59 139.10,79.54 139.40,80.50 139.70,81.45 140.00,82.41 140.29,83.36 140.59,84.32 140.89,85.28 141.19,86.23 141.48,87.19 141.78,88.14 142.08,89.10 142.38,90.06 142.67,91.01 142.97,91.97 143.27,92.92 143.56,93.88 143.86,94.84 144.15,95.79 144.45,96.75 144.75,97.70 145.04,98.66 145.34,99.62 145.63,100.57 145.93,101.53 146.22,102.49 146.52,103.44 146.82,104.40 147.11,105.36 147.41,106.31 147.70,107.27 148.00,108.23 148.29,109.18 148.59,110.14 148.88,111.10 149.17,112.05 149.47,113.01 149.76,113.97 150.06,114.92 150.35,115.88 150.65,116.84 150.94,117.79 151.23,118.75 151.53,119.71 151.82,120.66 152.12,121.62 152.41,122.58 152.70,123.53 153.00,124.49 153.29,125.45 153.58,126.41 153.88,127.36 154.17,128.32 154.46,129.28 154.76,130.23 155.05,131.19 155.34,132.15 155.64,133.11 155.93,134.06 156.22,135.02 156.52,135.98 156.81,136.93 157.10,137.89 157.39,138.85 157.69,139.81 157.98,140.76 158.27,141.72 158.57,142.68 158.86,143.63 159.15,144.59 159.44,145.55 159.74,146.51 160.03,147.46 160.32,148.42 160.62,149.38 160.91,150.34 161.20,151.29 161.49,152.25 161.79,153.21 162.08,154.16 162.37,155.12 162.66,156.08 162.96,157.04 163.25,157.99 163.54,158.95 163.84,159.91 164.13,160.87 164.42,161.82 164.71,162.78 165.01,163.74 165.30,164.69 165.59,165.65 165.89,166.61 166.18,167.57 166.47,168.52 166.76,169.48 167.06,170.44 167.35,171.39 167.64,172.35 167.94,173.31 168.23,174.27 168.52,175.22 168.82,176.18 169.11,177.14 169.40,178.09 169.70,179.05 169.99,180.01 170.28,180.97 170.58,181.92 170.87,182.88 171.16,183.84 171.46,184.79 171.75,185.75 172.04,186.71 172.34,187.66 172.63,188.62 172.93,189.58 173.22,190.54 173.51,191.49 173.81,192.45 174.10,193.41 174.40,194.36 174.69,195.32 174.99,196.28 175.28,197.23 175.57,198.19 175.87,199.15 176.16,200.10 176.46,201.06 176.75,202.02 177.05,202.97 177.34,203.93 177.64,204.89 177.94,205.84 178.23,206.80 178.53,207.75 178.82,208.71 179.12,209.67 179.42,210.62 179.71,211.58 180.01,212.53 180.31,213.49 180.60,214.45 180.90,215.40 181.20,216.36 181.50,217.31 181.79,218.27 182.09,219.22 182.39,220.18 182.69,221.14 182.99,222.09 183.29,223.05 183.59,224.00 183.89,224.96 184.19,225.91 184.49,226.87 184.79,227.82 185.09,228.77 185.40,229.73 185.70,230.68 186.00,231.64 186.30,232.59 186.61,233.55 186.91,234.50 187.22,235.45 187.52,236.41 187.83,237.36 188.13,238.31 188.44,239.27 188.74,240.22 189.05,241.17 189.36,242.12 189.66,243.08 189.97,244.03 190.28,244.98 190.59,245.93 190.90,246.89 191.21,247.84 191.52,248.79 191.83,249.74 192.14,250.69 192.46,251.64 192.77,252.59 193.08,253.54 193.40,254.50 193.71,255.45 194.03,256.40 194.34,257.35 194.66,258.30 194.97,259.25 195.29,260.19 195.61,261.14 195.93,262.09 196.25,263.04 196.57,263.99 196.89,264.94 197.21,265.89 197.53,266.83 197.85,267.78 198.18,268.73 198.50,269.68 198.83,270.62 199.15,271.57 199.48,272.52 199.80,273.46 200.13,274.41 200.46,275.35 200.79,276.30 201.12,277.24 201.45,278.19 201.78,279.13 202.11,280.08 202.45,281.02 202.78,281.97 203.11,282.91 203.45,283.85 203.79,284.80 204.12,285.74 204.46,286.68 204.80,287.62 205.14,288.56 205.48,289.51 205.82,290.45 206.16,291.39 206.50,292.33 206.85,293.27 207.19,294.21 207.54,295.15 207.88,296.09 208.23,297.03 208.58,297.96 208.93,298.90 209.28,299.84 209.63,300.78 209.98,301.71 210.34,302.65 210.69,303.59 211.04,304.52 211.40,305.46 211.76,306.39 212.11,307.33 212.47,308.26 212.83,309.20 213.19,310.13 213.56,311.07 213.92,312.00 214.28,312.93 214.65,313.86 215.01,314.79 215.38,315.73 215.75,316.66 216.12,317.59 216.49,318.52 216.86,319.45 217.23,320.38 217.60,321.31 217.98,322.23 218.35,323.16 218.73,324.09 219.11,325.02 219.49,325.94 219.87,326.87 220.25,327.79 220.63,328.72 221.02,329.64 221.40,330.57 221.79,331.49 222.17,332.41 222.56,333.34 222.95,334.26 223.34,335.18 223.73,336.10 224.13,337.02 224.52,337.94 224.92,338.86 225.32,339.78 225.72,340.70 226.12,341.62 226.52,342.53 226.92,343.45 227.33,344.36 227.73,345.28 228.14,346.19 228.55,347.11 228.96,348.02 229.37,348.93 229.79,349.84 230.20,350.75 230.62,351.66 231.04,352.57 231.46,353.48 231.88,354.39 232.30,355.30 232.73,356.20 233.16,357.11 233.58,358.01 234.02,358.92 234.45,359.82 234.88,360.72 235.32,361.62 235.76,362.52 236.20,363.42 236.64,364.32 237.08,365.22 237.53,366.11 237.98,367.01 238.43,367.90 238.88,368.80 239.33,369.69 239.79,370.58 240.24,371.47 240.70,372.36 241.17,373.25 241.63,374.13 242.10,375.02 242.56,375.90 243.03,376.79 243.51,377.67 243.98,378.55 244.46,379.43 244.94,380.31 245.42,381.19 245.90,382.06 246.39,382.94 246.88,383.81 247.37,384.68 247.86,385.56 248.36,386.43 248.86,387.29 249.36,388.16 249.86,389.03 250.37,389.89 250.88,390.75 251.39,391.61 251.90,392.47 252.41,393.33 252.93,394.19 253.45,395.04 253.98,395.90 254.50,396.75 255.03,397.60 255.56,398.45 256.10,399.29 256.63,400.14 257.17,400.98 257.71,401.82 258.26,402.66 258.81,403.50 259.36,404.34 259.91,405.17 260.47,406.00 261.02,406.83 261.59,407.66 262.15,408.49 262.72,409.31 263.29,410.14 263.86,410.96 264.44,411.78 265.02,412.59 265.60,413.41 266.18,414.22 266.77,415.03 267.36,415.84 267.96,416.64 268.55,417.45 269.15,418.25 269.76,419.05 270.36,419.84 270.97,420.64 271.58,421.43 272.20,422.22 272.82,423.01 273.44,423.79 274.06,424.57 274.69,425.35 275.32,426.13 275.95,426.91 276.59,427.68 277.23,428.45 277.87,429.22 278.52,429.98 279.17,430.75 279.82,431.51 280.47,432.26 281.13,433.02 281.79,433.77 282.45,434.52 283.12,435.27 283.79,436.01 284.46,436.76 285.13,437.50 285.81,438.23 286.49,438.97 287.17,439.70 287.86,440.43 288.55,441.16 289.24,441.88 289.93,442.60 290.63,443.32 291.33,444.04 292.03,444.75 292.73,445.46 293.44,446.17 294.15,446.87 294.86,447.58 295.58,448.28 296.30,448.97 297.02,449.67 297.74,450.36 298.47,451.05 299.20,451.74 299.93,452.42 300.66,453.10 301.40,453.78 302.14,454.45 302.88,455.12 303.62,455.79 304.37,456.46 305.12,457.12 305.87,457.79 306.63,458.44 307.38,459.10 308.14,459.75 308.91,460.40 309.67,461.05 310.44,461.69 311.21,462.33 311.98,462.97 312.75,463.60 313.53,464.24 314.31,464.86 315.09,465.49 315.87,466.11 316.66,466.73 317.44,467.35 318.23,467.96 319.03,468.58 319.82,469.18 320.62,469.79 321.42,470.39 322.22,470.99 323.03,471.59 323.83,472.18 324.64,472.77 325.45,473.36 326.27,473.94 327.08,474.52 327.90,475.10 328.72,475.67 329.54,476.24 330.36,476.81 331.19,477.38 332.02,477.94 332.85,478.50 333.68,479.05 334.52,479.61 335.35,480.16 336.19,480.70 337.03,481.25 337.88,481.79 338.72,482.32 339.57,482.86 340.42,483.39 341.27,483.91 342.12,484.44 342.97,484.96 343.83,485.48 344.69,485.99 345.55,486.50 346.41,487.01 347.28,487.51 348.15,488.02 349.01,488.51 349.88,489.01 350.76,489.50 351.63,489.99 352.51,490.47 353.38,490.95 354.26,491.43 355.14,491.91 356.03,492.38 356.91,492.85 357.80,493.31 358.69,493.77 359.58,494.23 360.47,494.68 361.36,495.14 362.26,495.58 363.15,496.03 364.05,496.47 364.95,496.91 365.86,497.34 366.76,497.77 367.66,498.20 368.57,498.62 369.48,499.04 370.39,499.46 371.30,499.87 372.21,500.28 373.13,500.69 374.05,501.09 374.96,501.49 375.88,501.89 376.80,502.28 377.73,502.67 378.65,503.06 379.58,503.44 380.50,503.82 381.43,504.19 382.36,504.56 383.29,504.93 384.22,505.30 385.16,505.66 386.09,506.02 387.03,506.37 387.96,506.72 388.90,507.07 389.84,507.42 390.78,507.76 391.73,508.10 392.67,508.43 393.61,508.76 394.56,509.09 395.50,509.42 396.45,509.74 397.40,510.06 398.35,510.38 399.30,510.69 400.25,511.00 401.21,511.31 402.16,511.61 403.11,511.92 404.07,512.21 405.02,512.51 405.98,512.80 406.94,513.09 407.90,513.38 408.86,513.67 409.82,513.95 410.78,514.23 411.74,514.51 412.70,514.78 413.67,515.05 414.63,515.32 415.60,515.59 416.56,515.85 417.53,516.11 418.50,516.37 419.46,516.63 420.43,516.88 421.40,517.13 422.37,517.38 423.34,517.63 424.31,517.87 425.28,518.11 426.25,518.35 427.23,518.59 428.20,518.82 429.17,519.06 430.15,519.29 431.12,519.52 432.10,519.74 433.07,519.97 434.05,520.19 435.03,520.41 436.00,520.63 436.98,520.84 437.96,521.06 438.94,521.27 439.92,521.48 440.89,521.69 441.87,521.89 442.85,522.10 443.83,522.30 444.82,522.50 445.80,522.70 446.78,522.89 447.76,523.09 448.74,523.28 449.72,523.47 450.71,523.66 451.69,523.85 452.67,524.04 453.66,524.22 454.64,524.41 455.63,524.59 456.61,524.77 457.60,524.95 458.58,525.12 459.57,525.30 460.55,525.47 461.54,525.65 462.52,525.82 463.51,525.99 464.50,526.16 465.48,526.32 466.47,526.49 467.46,526.65 468.45,526.82 469.44,526.98 470.42,527.14 471.41,527.30 472.40,527.46 473.39,527.61 474.38,527.77 475.37,527.92 476.36,528.07 477.35,528.22 478.34,528.37 479.33,528.52 480.32,528.67 481.31,528.81 482.30,528.96 483.29,529.10 484.28,529.24 485.27,529.38 486.26,529.52 487.25,529.66 488.24,529.79 489.24,529.93 490.23,530.06 491.22,530.19 492.21,530.33 493.21,530.46 494.20,530.59 495.19,530.71 496.18,530.84 497.18,530.96 498.17,531.09 499.16,531.21 500.16,531.33 501.15,531.45 502.15,531.57 503.14,531.69 504.13,531.81 505.13,531.93 506.12,532.04 507.12,532.15 508.11,532.27 509.11,532.38 510.10,532.49 511.10,532.60 512.09,532.71 513.09,532.81 514.08,532.92 515.08,533.02 516.07,533.13 517.07,533.23 518.06,533.33 519.06,533.43 520.06,533.53 521.05,533.63 522.05,533.73 523.05,533.83 524.04,533.92 525.04,534.02 526.03,534.11 527.03,534.20 528.03,534.29 529.03,534.38 530.02,534.47 531.02,534.56 532.02,534.65 533.01,534.74 534.01,534.82 535.01,534.91 536.01,534.99 537.00,535.08 538.00,535.16 539.00,535.24 540.00,535.32 540.99,535.40 541.99,535.48 542.99,535.56 543.99,535.64 544.99,535.71 545.98,535.79 546.98,535.86 547.98,535.94 548.98,536.01 549.98,536.08 550.98,536.15 551.97,536.22 552.97,536.29 553.97,536.36 554.97,536.43 555.97,536.50 556.97,536.56 557.97,536.63 558.97,536.69 559.97,536.76 560.96,536.82 561.96,536.89 562.96,536.95 563.96,537.01 564.96,537.07 565.96,537.13 566.96,537.19 567.96,537.25 568.96,537.31 569.96,537.36 570.96,537.42 571.96,537.48 572.96,537.53 573.95,537.59 574.95,537.64 575.95,537.70 576.95,537.75 577.95,537.80 578.95,537.85 579.95,537.90 580.95,537.96 581.95,538.01 582.95,538.06 583.95,538.10 584.95,538.15 585.95,538.20 586.95,538.25 587.95,538.30 588.95,538.34 589.95,538.39 590.95,538.43 591.95,538.48 592.95,538.52 593.95,538.57 594.95,538.61 595.95,538.65 596.95,538.70 597.95,538.74 598.95,538.78 599.95,538.82 600.95,538.86 601.95,538.90 602.95,538.94 603.95,538.98 604.95,539.02 605.95,539.06 606.95,539.10 607.95,539.14 608.95,539.17 609.95,539.21 610.95,539.25 611.96,539.28 612.96,539.32 613.96,539.36 614.96,539.39 615.96,539.43 616.96,539.46 617.96,539.50 618.96,539.53 619.96,539.57 620.96,539.60 621.96,539.63 622.96,539.67 623.96,539.70 624.96,539.73 625.96,539.76 626.96,539.80 627.96,539.83 628.96,539.86 629.96,539.89 630.96,539.92 631.96,539.96 632.96,539.99 633.97,540.02 634.97,540.05 635.97,540.08 636.97,540.11 637.97,540.14 638.97,540.17 639.97,540.20 640.97,540.23 641.97,540.26 642.97,540.29 643.97,540.32 644.97,540.35 645.97,540.38 646.97,540.41 647.97,540.44 648.97,540.47 649.97,540.50 650.98,540.53 651.98,540.56 652.98,540.58 653.98,540.61 654.98,540.64 655.98,540.67 656.98,540.70 657.98,540.73 658.98,540.76 659.98,540.79 660.98,540.82 661.98,540.85 662.98,540.88 663.98,540.91 664.98,540.93 665.98,540.96 666.98,540.99 667.99,541.02 668.99,541.05 669.99,541.08 670.99,541.11 671.99,541.14 672.99,541.17 673.99,541.20 674.99,541.23 675.99,541.26 676.99,541.30 677.99,541.33 678.99,541.36 679.99,541.39 680.99,541.42" fill="none" stroke="#f00" stroke-width="2.4" stroke-dasharray="16 7.6 3 7.98"/>
<path d="M116,9V543.5H681" stroke="#000" stroke-width="2" fill="none"/>
<text transform="translate(83.0 443.0) scale(0.84 1)" text-anchor="middle" font-family="'Liberation Sans', sans-serif" font-size="19.5">0</text>
<text transform="translate(92.0 443.0) scale(0.84 1)" text-anchor="middle" font-family="'Liberation Sans', sans-serif" font-size="19.5">.</text>
<text transform="translate(99.4 443.0) scale(0.84 1)" text-anchor="middle" font-family="'Liberation Sans', sans-serif" font-size="19.5">2</text>
<text transform="translate(83.0 336.2) scale(0.84 1)" text-anchor="middle" font-family="'Liberation Sans', sans-serif" font-size="19.5">0</text>
<text transform="translate(92.0 336.2) scale(0.84 1)" text-anchor="middle" font-family="'Liberation Sans', sans-serif" font-size="19.5">.</text>
<text transform="translate(99.4 336.2) scale(0.84 1)" text-anchor="middle" font-family="'Liberation Sans', sans-serif" font-size="19.5">4</text>
<text transform="translate(83.0 229.4) scale(0.84 1)" text-anchor="middle" font-family="'Liberation Sans', sans-serif" font-size="19.5">0</text>
<text transform="translate(92.0 229.4) scale(0.84 1)" text-anchor="middle" font-family="'Liberation Sans', sans-serif" font-size="19.5">.</text>
<text transform="translate(99.4 229.4) scale(0.84 1)" text-anchor="middle" font-family="'Liberation Sans', sans-serif" font-size="19.5">6</text>
<text transform="translate(83.0 122.6) scale(0.84 1)" text-anchor="middle" font-family="'Liberation Sans', sans-serif" font-size="19.5">0</text>
<text transform="translate(92.0 122.6) scale(0.84 1)" text-anchor="middle" font-family="'Liberation Sans', sans-serif" font-size="19.5">.</text>
<text transform="translate(99.4 122.6) scale(0.84 1)" text-anchor="middle" font-family="'Liberation Sans', sans-serif" font-size="19.5">8</text>
<text transform="translate(98.8 549.8) scale(0.84 1)" text-anchor="middle" font-family="'Liberation Sans', sans-serif" font-size="19.5">0</text>
<text transform="translate(98.6 15.8) scale(0.72 1)" text-anchor="middle" font-family="'Liberation Sans', sans-serif" font-size="19.5">1</text>
<text transform="translate(115.0 571.3) scale(0.87 1)" text-anchor="middle" font-family="'Liberation Sans', sans-serif" font-size="19.5">0</text>
<text transform="translate(184.0 571.3) scale(0.75 1)" text-anchor="middle" font-family="'Liberation Sans', sans-serif" font-size="19.5">1</text>
<text transform="translate(254.8 571.3) scale(0.87 1)" text-anchor="middle" font-family="'Liberation Sans', sans-serif" font-size="19.5">2</text>
<text transform="translate(325.6 571.3) scale(0.87 1)" text-anchor="middle" font-family="'Liberation Sans', sans-serif" font-size="19.5">3</text>
<text transform="translate(397.0 571.3) scale(0.87 1)" text-anchor="middle" font-family="'Liberation Sans', sans-serif" font-size="19.5">4</text>
<text transform="translate(467.3 571.3) scale(0.87 1)" text-anchor="middle" font-family="'Liberation Sans', sans-serif" font-size="19.5">5</text>
<text transform="translate(538.2 571.3) scale(0.87 1)" text-anchor="middle" font-family="'Liberation Sans', sans-serif" font-size="19.5">6</text>
<text transform="translate(608.9 571.3) scale(0.87 1)" text-anchor="middle" font-family="'Liberation Sans', sans-serif" font-size="19.5">7</text>
<text transform="translate(679.5 571.3) scale(0.87 1)" text-anchor="middle" font-family="'Liberation Sans', sans-serif" font-size="19.5">8</text>
<text x="222.5" y="41" font-family="'Liberation Serif', serif" font-size="23.6"><tspan font-weight="bold">Dot Curves:</tspan> Tetra-hybrid nanofluid</text>
<text x="222.5" y="66.8" font-family="'Liberation Serif', serif" font-size="23.6"><tspan font-weight="bold">Dash Dot Curves:</tspan> Tri-hybrid nanofluid</text>
<text x="325.5" y="291.2" font-family="'Liberation Serif', serif" font-size="23.6">We = 0.0, 0.43, 0.64</text>
<path d="M332.8,317.1L198.5,470.5M201.4,453.4L198.5,470.5L213.8,463.3" stroke="#1a1a1a" stroke-width="1.45" fill="none"/>
<g transform="translate(390.7 588)"><path d="M0,1.8h1.7v1.8h-1.7zM1.5,0h3.8v1.6h-3.8zM3.4,0.5h1.8v12.1h-1.8zM5.8,0h5.4v1.6h-5.4zM9.7,0h1.8v10h-1.8zM9.9,9.8h3v7.5h-3z" fill="#000"/></g>
<g transform="translate(39.8 267.3)"><path d="M0,1.8h1.7v1.8h-1.7zM1.5,0h3.8v1.6h-3.8zM3.4,0.5h1.8v12.1h-1.8zM5.8,0h5.4v1.6h-5.4zM9.7,0h1.8v10h-1.8zM9.9,9.8h3v7.5h-3z" fill="#000"/></g>
<g transform="translate(16.9 283.6) scale(0.7 0.77)"><path d="M0,1.8h1.7v1.8h-1.7zM1.5,0h3.8v1.6h-3.8zM3.4,0.5h1.8v12.1h-1.8zM5.8,0h5.4v1.6h-5.4zM9.7,0h1.8v10h-1.8zM9.9,9.8h3v7.5h-3z" fill="#000"/></g>
<path d="M36.5,259.8C31.5,265 30.6,268 30.6,272.6C30.6,277 31.5,280.5 36.5,285.4M57.6,259.8C61.6,265 62,268 62,272.6C62,277 61.6,280.5 57.6,285.4" stroke="#000" stroke-width="1.3" fill="none"/>
<path d="M7.1,265H18M17.2,265V268.6M9.0,265.3L4.7,279M7.3,271.1H12.6M12.3,267.9V271.1M10.8,271.3V275M2.2,279.2H6.9" stroke="#000" stroke-width="1.3" fill="none"/>
</svg></body></html>
